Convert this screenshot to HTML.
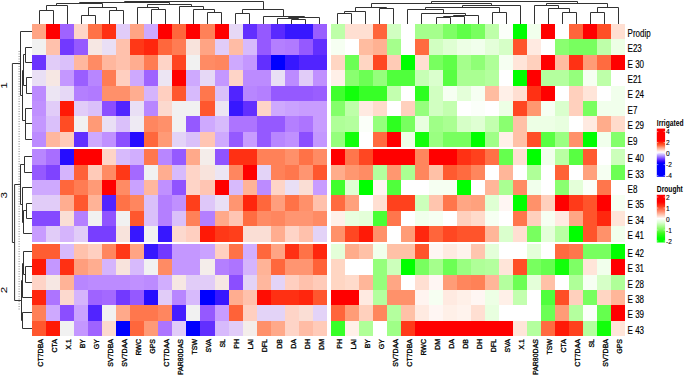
<!DOCTYPE html>
<html><head><meta charset="utf-8"><title>Heatmap</title>
<style>
html,body{margin:0;padding:0;background:#fff;}
body{width:685px;height:377px;position:relative;overflow:hidden;font-family:"Liberation Sans", sans-serif;}
</style></head><body>
<svg width="685" height="377" viewBox="0 0 685 377" shape-rendering="crispEdges" style="position:absolute;left:0;top:0">
<rect x="32.00" y="24.00" width="14.09" height="15.43" fill="#ffa484"/>
<rect x="46.04" y="24.00" width="14.09" height="15.43" fill="#ff0000"/>
<rect x="60.08" y="24.00" width="14.09" height="15.43" fill="#9f63ff"/>
<rect x="74.12" y="24.00" width="14.09" height="15.43" fill="#fed4c7"/>
<rect x="88.16" y="24.00" width="14.09" height="15.43" fill="#ff7247"/>
<rect x="102.20" y="24.00" width="14.09" height="15.43" fill="#ff3013"/>
<rect x="116.24" y="24.00" width="14.09" height="15.43" fill="#e1ccf8"/>
<rect x="130.28" y="24.00" width="14.09" height="15.43" fill="#ffa484"/>
<rect x="144.32" y="24.00" width="14.09" height="15.43" fill="#cea9fe"/>
<rect x="158.36" y="24.00" width="14.09" height="15.43" fill="#ff0000"/>
<rect x="172.40" y="24.00" width="14.09" height="15.43" fill="#ff673c"/>
<rect x="186.44" y="24.00" width="14.09" height="15.43" fill="#ff0000"/>
<rect x="200.48" y="24.00" width="14.09" height="15.43" fill="#ff8158"/>
<rect x="214.52" y="24.00" width="14.09" height="15.43" fill="#ff0000"/>
<rect x="228.56" y="24.00" width="14.09" height="15.43" fill="#e6d8f6"/>
<rect x="242.60" y="24.00" width="14.09" height="15.43" fill="#622fff"/>
<rect x="256.64" y="24.00" width="14.09" height="15.43" fill="#9559ff"/>
<rect x="270.68" y="24.00" width="14.09" height="15.43" fill="#5a29ff"/>
<rect x="284.72" y="24.00" width="14.09" height="15.43" fill="#3717ff"/>
<rect x="298.76" y="24.00" width="14.09" height="15.43" fill="#3717ff"/>
<rect x="312.80" y="24.00" width="14.09" height="15.43" fill="#9a5eff"/>
<rect x="330.80" y="24.00" width="14.08" height="15.43" fill="#beffa9"/>
<rect x="344.83" y="24.00" width="14.08" height="15.43" fill="#ffdfd2"/>
<rect x="358.86" y="24.00" width="14.08" height="15.43" fill="#ffdfd2"/>
<rect x="372.89" y="24.00" width="14.08" height="15.43" fill="#ff653b"/>
<rect x="386.92" y="24.00" width="14.08" height="15.43" fill="#d1ffc1"/>
<rect x="400.95" y="24.00" width="14.08" height="15.43" fill="#ffffff"/>
<rect x="414.98" y="24.00" width="14.08" height="15.43" fill="#a5ff8c"/>
<rect x="429.01" y="24.00" width="14.08" height="15.43" fill="#a5ff8c"/>
<rect x="443.04" y="24.00" width="14.08" height="15.43" fill="#7eff65"/>
<rect x="457.07" y="24.00" width="14.08" height="15.43" fill="#5fff48"/>
<rect x="471.10" y="24.00" width="14.08" height="15.43" fill="#78ff5f"/>
<rect x="485.13" y="24.00" width="14.08" height="15.43" fill="#beffa9"/>
<rect x="499.16" y="24.00" width="14.08" height="15.43" fill="#fbfff9"/>
<rect x="513.19" y="24.00" width="14.08" height="15.43" fill="#00ff00"/>
<rect x="527.22" y="24.00" width="14.08" height="15.43" fill="#f1ffec"/>
<rect x="541.25" y="24.00" width="14.08" height="15.43" fill="#ff0000"/>
<rect x="555.28" y="24.00" width="14.08" height="15.43" fill="#ffffff"/>
<rect x="569.31" y="24.00" width="14.08" height="15.43" fill="#ff653b"/>
<rect x="583.34" y="24.00" width="14.08" height="15.43" fill="#ff0000"/>
<rect x="597.37" y="24.00" width="14.08" height="15.43" fill="#ff4e26"/>
<rect x="611.40" y="24.00" width="14.08" height="15.43" fill="#ffdfd2"/>
<rect x="32.00" y="39.38" width="14.09" height="15.43" fill="#f1f1f1"/>
<rect x="46.04" y="39.38" width="14.09" height="15.43" fill="#ffc1ac"/>
<rect x="60.08" y="39.38" width="14.09" height="15.43" fill="#7239ff"/>
<rect x="74.12" y="39.38" width="14.09" height="15.43" fill="#9559ff"/>
<rect x="88.16" y="39.38" width="14.09" height="15.43" fill="#f6e7e3"/>
<rect x="102.20" y="39.38" width="14.09" height="15.43" fill="#e9dff5"/>
<rect x="116.24" y="39.38" width="14.09" height="15.43" fill="#ffc1ac"/>
<rect x="130.28" y="39.38" width="14.09" height="15.43" fill="#ff3817"/>
<rect x="144.32" y="39.38" width="14.09" height="15.43" fill="#ff260d"/>
<rect x="158.36" y="39.38" width="14.09" height="15.43" fill="#ff673c"/>
<rect x="172.40" y="39.38" width="14.09" height="15.43" fill="#ff7c53"/>
<rect x="186.44" y="39.38" width="14.09" height="15.43" fill="#f8e3dc"/>
<rect x="200.48" y="39.38" width="14.09" height="15.43" fill="#ffa484"/>
<rect x="214.52" y="39.38" width="14.09" height="15.43" fill="#e1ccf8"/>
<rect x="228.56" y="39.38" width="14.09" height="15.43" fill="#ffbca5"/>
<rect x="242.60" y="39.38" width="14.09" height="15.43" fill="#d7bafc"/>
<rect x="256.64" y="39.38" width="14.09" height="15.43" fill="#9559ff"/>
<rect x="270.68" y="39.38" width="14.09" height="15.43" fill="#b47fff"/>
<rect x="284.72" y="39.38" width="14.09" height="15.43" fill="#b17aff"/>
<rect x="298.76" y="39.38" width="14.09" height="15.43" fill="#9559ff"/>
<rect x="312.80" y="39.38" width="14.09" height="15.43" fill="#622fff"/>
<rect x="330.80" y="39.38" width="14.08" height="15.43" fill="#f6fff2"/>
<rect x="344.83" y="39.38" width="14.08" height="15.43" fill="#ffffff"/>
<rect x="358.86" y="39.38" width="14.08" height="15.43" fill="#ffbca0"/>
<rect x="372.89" y="39.38" width="14.08" height="15.43" fill="#ffb192"/>
<rect x="386.92" y="39.38" width="14.08" height="15.43" fill="#a5ff8c"/>
<rect x="400.95" y="39.38" width="14.08" height="15.43" fill="#ffffff"/>
<rect x="414.98" y="39.38" width="14.08" height="15.43" fill="#ff6b40"/>
<rect x="429.01" y="39.38" width="14.08" height="15.43" fill="#d1ffc1"/>
<rect x="443.04" y="39.38" width="14.08" height="15.43" fill="#dfffd3"/>
<rect x="457.07" y="39.38" width="14.08" height="15.43" fill="#edffe5"/>
<rect x="471.10" y="39.38" width="14.08" height="15.43" fill="#f1ffec"/>
<rect x="485.13" y="39.38" width="14.08" height="15.43" fill="#e4ffd9"/>
<rect x="499.16" y="39.38" width="14.08" height="15.43" fill="#d6ffc7"/>
<rect x="513.19" y="39.38" width="14.08" height="15.43" fill="#ff542b"/>
<rect x="527.22" y="39.38" width="14.08" height="15.43" fill="#ffeae1"/>
<rect x="541.25" y="39.38" width="14.08" height="15.43" fill="#ffffff"/>
<rect x="555.28" y="39.38" width="14.08" height="15.43" fill="#8aff70"/>
<rect x="569.31" y="39.38" width="14.08" height="15.43" fill="#78ff5f"/>
<rect x="583.34" y="39.38" width="14.08" height="15.43" fill="#78ff5f"/>
<rect x="597.37" y="39.38" width="14.08" height="15.43" fill="#beffa9"/>
<rect x="611.40" y="39.38" width="14.08" height="15.43" fill="#edffe5"/>
<rect x="32.00" y="54.75" width="14.09" height="15.43" fill="#6b34ff"/>
<rect x="46.04" y="54.75" width="14.09" height="15.43" fill="#e1ccf8"/>
<rect x="60.08" y="54.75" width="14.09" height="15.43" fill="#dac0fa"/>
<rect x="74.12" y="54.75" width="14.09" height="15.43" fill="#ffb79e"/>
<rect x="88.16" y="54.75" width="14.09" height="15.43" fill="#ff8b64"/>
<rect x="102.20" y="54.75" width="14.09" height="15.43" fill="#ffb79e"/>
<rect x="116.24" y="54.75" width="14.09" height="15.43" fill="#ffc1ac"/>
<rect x="130.28" y="54.75" width="14.09" height="15.43" fill="#ffad90"/>
<rect x="144.32" y="54.75" width="14.09" height="15.43" fill="#ff7c53"/>
<rect x="158.36" y="54.75" width="14.09" height="15.43" fill="#fed4c7"/>
<rect x="172.40" y="54.75" width="14.09" height="15.43" fill="#ff4520"/>
<rect x="186.44" y="54.75" width="14.09" height="15.43" fill="#f1f1f1"/>
<rect x="200.48" y="54.75" width="14.09" height="15.43" fill="#ff8b64"/>
<rect x="214.52" y="54.75" width="14.09" height="15.43" fill="#ff865f"/>
<rect x="228.56" y="54.75" width="14.09" height="15.43" fill="#cea9fe"/>
<rect x="242.60" y="54.75" width="14.09" height="15.43" fill="#c497ff"/>
<rect x="256.64" y="54.75" width="14.09" height="15.43" fill="#622fff"/>
<rect x="270.68" y="54.75" width="14.09" height="15.43" fill="#0000ff"/>
<rect x="284.72" y="54.75" width="14.09" height="15.43" fill="#3717ff"/>
<rect x="298.76" y="54.75" width="14.09" height="15.43" fill="#5124ff"/>
<rect x="312.80" y="54.75" width="14.09" height="15.43" fill="#5124ff"/>
<rect x="330.80" y="54.75" width="14.08" height="15.43" fill="#ffd6c3"/>
<rect x="344.83" y="54.75" width="14.08" height="15.43" fill="#6cff54"/>
<rect x="358.86" y="54.75" width="14.08" height="15.43" fill="#ffd6c3"/>
<rect x="372.89" y="54.75" width="14.08" height="15.43" fill="#ff4722"/>
<rect x="386.92" y="54.75" width="14.08" height="15.43" fill="#ffcbb6"/>
<rect x="400.95" y="54.75" width="14.08" height="15.43" fill="#00ff00"/>
<rect x="414.98" y="54.75" width="14.08" height="15.43" fill="#ffdfd2"/>
<rect x="429.01" y="54.75" width="14.08" height="15.43" fill="#78ff5f"/>
<rect x="443.04" y="54.75" width="14.08" height="15.43" fill="#5fff48"/>
<rect x="457.07" y="54.75" width="14.08" height="15.43" fill="#a5ff8c"/>
<rect x="471.10" y="54.75" width="14.08" height="15.43" fill="#8fff76"/>
<rect x="485.13" y="54.75" width="14.08" height="15.43" fill="#afff98"/>
<rect x="499.16" y="54.75" width="14.08" height="15.43" fill="#f6fff2"/>
<rect x="513.19" y="54.75" width="14.08" height="15.43" fill="#ffe5d9"/>
<rect x="527.22" y="54.75" width="14.08" height="15.43" fill="#ffd0bd"/>
<rect x="541.25" y="54.75" width="14.08" height="15.43" fill="#ff0000"/>
<rect x="555.28" y="54.75" width="14.08" height="15.43" fill="#ffbca0"/>
<rect x="569.31" y="54.75" width="14.08" height="15.43" fill="#ff3114"/>
<rect x="583.34" y="54.75" width="14.08" height="15.43" fill="#ff9c77"/>
<rect x="597.37" y="54.75" width="14.08" height="15.43" fill="#ff6b40"/>
<rect x="611.40" y="54.75" width="14.08" height="15.43" fill="#ff0000"/>
<rect x="32.00" y="70.12" width="14.09" height="15.43" fill="#e9dff5"/>
<rect x="46.04" y="70.12" width="14.09" height="15.43" fill="#f6e7e3"/>
<rect x="60.08" y="70.12" width="14.09" height="15.43" fill="#c497ff"/>
<rect x="74.12" y="70.12" width="14.09" height="15.43" fill="#9a5eff"/>
<rect x="88.16" y="70.12" width="14.09" height="15.43" fill="#b886ff"/>
<rect x="102.20" y="70.12" width="14.09" height="15.43" fill="#ff7c53"/>
<rect x="116.24" y="70.12" width="14.09" height="15.43" fill="#ffcfc0"/>
<rect x="130.28" y="70.12" width="14.09" height="15.43" fill="#cea9fe"/>
<rect x="144.32" y="70.12" width="14.09" height="15.43" fill="#9f63ff"/>
<rect x="158.36" y="70.12" width="14.09" height="15.43" fill="#ece5f3"/>
<rect x="172.40" y="70.12" width="14.09" height="15.43" fill="#ff0000"/>
<rect x="186.44" y="70.12" width="14.09" height="15.43" fill="#cea9fe"/>
<rect x="200.48" y="70.12" width="14.09" height="15.43" fill="#e6d8f6"/>
<rect x="214.52" y="70.12" width="14.09" height="15.43" fill="#c497ff"/>
<rect x="228.56" y="70.12" width="14.09" height="15.43" fill="#fed4c7"/>
<rect x="242.60" y="70.12" width="14.09" height="15.43" fill="#bc8bff"/>
<rect x="256.64" y="70.12" width="14.09" height="15.43" fill="#bc8bff"/>
<rect x="270.68" y="70.12" width="14.09" height="15.43" fill="#e9dff5"/>
<rect x="284.72" y="70.12" width="14.09" height="15.43" fill="#bc8bff"/>
<rect x="298.76" y="70.12" width="14.09" height="15.43" fill="#e1ccf8"/>
<rect x="312.80" y="70.12" width="14.09" height="15.43" fill="#c090ff"/>
<rect x="330.80" y="70.12" width="14.08" height="15.43" fill="#fff0e8"/>
<rect x="344.83" y="70.12" width="14.08" height="15.43" fill="#8aff70"/>
<rect x="358.86" y="70.12" width="14.08" height="15.43" fill="#6cff54"/>
<rect x="372.89" y="70.12" width="14.08" height="15.43" fill="#95ff7c"/>
<rect x="386.92" y="70.12" width="14.08" height="15.43" fill="#50ff3c"/>
<rect x="400.95" y="70.12" width="14.08" height="15.43" fill="#50ff3c"/>
<rect x="414.98" y="70.12" width="14.08" height="15.43" fill="#c7ffb5"/>
<rect x="429.01" y="70.12" width="14.08" height="15.43" fill="#daffcd"/>
<rect x="443.04" y="70.12" width="14.08" height="15.43" fill="#58ff42"/>
<rect x="457.07" y="70.12" width="14.08" height="15.43" fill="#aaff92"/>
<rect x="471.10" y="70.12" width="14.08" height="15.43" fill="#aaff92"/>
<rect x="485.13" y="70.12" width="14.08" height="15.43" fill="#b4ff9e"/>
<rect x="499.16" y="70.12" width="14.08" height="15.43" fill="#ffffff"/>
<rect x="513.19" y="70.12" width="14.08" height="15.43" fill="#00ff00"/>
<rect x="527.22" y="70.12" width="14.08" height="15.43" fill="#ff0000"/>
<rect x="541.25" y="70.12" width="14.08" height="15.43" fill="#b4ff9e"/>
<rect x="555.28" y="70.12" width="14.08" height="15.43" fill="#b4ff9e"/>
<rect x="569.31" y="70.12" width="14.08" height="15.43" fill="#95ff7c"/>
<rect x="583.34" y="70.12" width="14.08" height="15.43" fill="#f6fff2"/>
<rect x="597.37" y="70.12" width="14.08" height="15.43" fill="#beffa9"/>
<rect x="611.40" y="70.12" width="14.08" height="15.43" fill="#ffffff"/>
<rect x="32.00" y="85.50" width="14.09" height="15.43" fill="#bc8bff"/>
<rect x="46.04" y="85.50" width="14.09" height="15.43" fill="#ece5f3"/>
<rect x="60.08" y="85.50" width="14.09" height="15.43" fill="#e6d8f6"/>
<rect x="74.12" y="85.50" width="14.09" height="15.43" fill="#b47fff"/>
<rect x="88.16" y="85.50" width="14.09" height="15.43" fill="#b17aff"/>
<rect x="102.20" y="85.50" width="14.09" height="15.43" fill="#ff906a"/>
<rect x="116.24" y="85.50" width="14.09" height="15.43" fill="#ff906a"/>
<rect x="130.28" y="85.50" width="14.09" height="15.43" fill="#ffad90"/>
<rect x="144.32" y="85.50" width="14.09" height="15.43" fill="#d5b4fc"/>
<rect x="158.36" y="85.50" width="14.09" height="15.43" fill="#ffcfc0"/>
<rect x="172.40" y="85.50" width="14.09" height="15.43" fill="#ff572e"/>
<rect x="186.44" y="85.50" width="14.09" height="15.43" fill="#d7bafc"/>
<rect x="200.48" y="85.50" width="14.09" height="15.43" fill="#ff774d"/>
<rect x="214.52" y="85.50" width="14.09" height="15.43" fill="#dac0fa"/>
<rect x="228.56" y="85.50" width="14.09" height="15.43" fill="#5124ff"/>
<rect x="242.60" y="85.50" width="14.09" height="15.43" fill="#b886ff"/>
<rect x="256.64" y="85.50" width="14.09" height="15.43" fill="#b47fff"/>
<rect x="270.68" y="85.50" width="14.09" height="15.43" fill="#9559ff"/>
<rect x="284.72" y="85.50" width="14.09" height="15.43" fill="#9559ff"/>
<rect x="298.76" y="85.50" width="14.09" height="15.43" fill="#9559ff"/>
<rect x="312.80" y="85.50" width="14.09" height="15.43" fill="#9a5eff"/>
<rect x="330.80" y="85.50" width="14.08" height="15.43" fill="#40ff2e"/>
<rect x="344.83" y="85.50" width="14.08" height="15.43" fill="#12ff0b"/>
<rect x="358.86" y="85.50" width="14.08" height="15.43" fill="#37ff27"/>
<rect x="372.89" y="85.50" width="14.08" height="15.43" fill="#37ff27"/>
<rect x="386.92" y="85.50" width="14.08" height="15.43" fill="#c3ffaf"/>
<rect x="400.95" y="85.50" width="14.08" height="15.43" fill="#ffffff"/>
<rect x="414.98" y="85.50" width="14.08" height="15.43" fill="#2dff1f"/>
<rect x="429.01" y="85.50" width="14.08" height="15.43" fill="#d1ffc1"/>
<rect x="443.04" y="85.50" width="14.08" height="15.43" fill="#f6fff2"/>
<rect x="457.07" y="85.50" width="14.08" height="15.43" fill="#e4ffd9"/>
<rect x="471.10" y="85.50" width="14.08" height="15.43" fill="#f6fff2"/>
<rect x="485.13" y="85.50" width="14.08" height="15.43" fill="#ffbca0"/>
<rect x="499.16" y="85.50" width="14.08" height="15.43" fill="#fff0e8"/>
<rect x="513.19" y="85.50" width="14.08" height="15.43" fill="#ffdfd2"/>
<rect x="527.22" y="85.50" width="14.08" height="15.43" fill="#ff3114"/>
<rect x="541.25" y="85.50" width="14.08" height="15.43" fill="#ff0000"/>
<rect x="555.28" y="85.50" width="14.08" height="15.43" fill="#ffffff"/>
<rect x="569.31" y="85.50" width="14.08" height="15.43" fill="#ffd0bd"/>
<rect x="583.34" y="85.50" width="14.08" height="15.43" fill="#ffe5d9"/>
<rect x="597.37" y="85.50" width="14.08" height="15.43" fill="#ffffff"/>
<rect x="611.40" y="85.50" width="14.08" height="15.43" fill="#f1ffec"/>
<rect x="32.00" y="100.88" width="14.09" height="15.43" fill="#c090ff"/>
<rect x="46.04" y="100.88" width="14.09" height="15.43" fill="#e1ccf8"/>
<rect x="60.08" y="100.88" width="14.09" height="15.43" fill="#ff1906"/>
<rect x="74.12" y="100.88" width="14.09" height="15.43" fill="#e1ccf8"/>
<rect x="88.16" y="100.88" width="14.09" height="15.43" fill="#dac0fa"/>
<rect x="102.20" y="100.88" width="14.09" height="15.43" fill="#8b4eff"/>
<rect x="116.24" y="100.88" width="14.09" height="15.43" fill="#5124ff"/>
<rect x="130.28" y="100.88" width="14.09" height="15.43" fill="#e9dff5"/>
<rect x="144.32" y="100.88" width="14.09" height="15.43" fill="#b886ff"/>
<rect x="158.36" y="100.88" width="14.09" height="15.43" fill="#fcd9ce"/>
<rect x="172.40" y="100.88" width="14.09" height="15.43" fill="#f1f1f1"/>
<rect x="186.44" y="100.88" width="14.09" height="15.43" fill="#f1f1f1"/>
<rect x="200.48" y="100.88" width="14.09" height="15.43" fill="#ff572e"/>
<rect x="214.52" y="100.88" width="14.09" height="15.43" fill="#ece5f3"/>
<rect x="228.56" y="100.88" width="14.09" height="15.43" fill="#3717ff"/>
<rect x="242.60" y="100.88" width="14.09" height="15.43" fill="#622fff"/>
<rect x="256.64" y="100.88" width="14.09" height="15.43" fill="#fed4c7"/>
<rect x="270.68" y="100.88" width="14.09" height="15.43" fill="#cea9fe"/>
<rect x="284.72" y="100.88" width="14.09" height="15.43" fill="#caa2ff"/>
<rect x="298.76" y="100.88" width="14.09" height="15.43" fill="#c89cff"/>
<rect x="312.80" y="100.88" width="14.09" height="15.43" fill="#c89cff"/>
<rect x="330.80" y="100.88" width="14.08" height="15.43" fill="#84ff6b"/>
<rect x="344.83" y="100.88" width="14.08" height="15.43" fill="#beffa9"/>
<rect x="358.86" y="100.88" width="14.08" height="15.43" fill="#ffeae1"/>
<rect x="372.89" y="100.88" width="14.08" height="15.43" fill="#ffdbcb"/>
<rect x="386.92" y="100.88" width="14.08" height="15.43" fill="#ffffff"/>
<rect x="400.95" y="100.88" width="14.08" height="15.43" fill="#ffd0bd"/>
<rect x="414.98" y="100.88" width="14.08" height="15.43" fill="#95ff7c"/>
<rect x="429.01" y="100.88" width="14.08" height="15.43" fill="#d1ffc1"/>
<rect x="443.04" y="100.88" width="14.08" height="15.43" fill="#c3ffaf"/>
<rect x="457.07" y="100.88" width="14.08" height="15.43" fill="#ffffff"/>
<rect x="471.10" y="100.88" width="14.08" height="15.43" fill="#fbfff9"/>
<rect x="485.13" y="100.88" width="14.08" height="15.43" fill="#ffffff"/>
<rect x="499.16" y="100.88" width="14.08" height="15.43" fill="#edffe5"/>
<rect x="513.19" y="100.88" width="14.08" height="15.43" fill="#ff4722"/>
<rect x="527.22" y="100.88" width="14.08" height="15.43" fill="#ff9770"/>
<rect x="541.25" y="100.88" width="14.08" height="15.43" fill="#f6fff2"/>
<rect x="555.28" y="100.88" width="14.08" height="15.43" fill="#daffcd"/>
<rect x="569.31" y="100.88" width="14.08" height="15.43" fill="#ffd0bd"/>
<rect x="583.34" y="100.88" width="14.08" height="15.43" fill="#78ff5f"/>
<rect x="597.37" y="100.88" width="14.08" height="15.43" fill="#f1ffec"/>
<rect x="611.40" y="100.88" width="14.08" height="15.43" fill="#f1ffec"/>
<rect x="32.00" y="116.25" width="14.09" height="15.43" fill="#c497ff"/>
<rect x="46.04" y="116.25" width="14.09" height="15.43" fill="#dac0fa"/>
<rect x="60.08" y="116.25" width="14.09" height="15.43" fill="#ff4c24"/>
<rect x="74.12" y="116.25" width="14.09" height="15.43" fill="#f1f1f1"/>
<rect x="88.16" y="116.25" width="14.09" height="15.43" fill="#ff9a76"/>
<rect x="102.20" y="116.25" width="14.09" height="15.43" fill="#e9dff5"/>
<rect x="116.24" y="116.25" width="14.09" height="15.43" fill="#dac0fa"/>
<rect x="130.28" y="116.25" width="14.09" height="15.43" fill="#eeeaf3"/>
<rect x="144.32" y="116.25" width="14.09" height="15.43" fill="#ff865f"/>
<rect x="158.36" y="116.25" width="14.09" height="15.43" fill="#ff906a"/>
<rect x="172.40" y="116.25" width="14.09" height="15.43" fill="#f1f1f1"/>
<rect x="186.44" y="116.25" width="14.09" height="15.43" fill="#9559ff"/>
<rect x="200.48" y="116.25" width="14.09" height="15.43" fill="#cea9fe"/>
<rect x="214.52" y="116.25" width="14.09" height="15.43" fill="#d7bafc"/>
<rect x="228.56" y="116.25" width="14.09" height="15.43" fill="#ad74ff"/>
<rect x="242.60" y="116.25" width="14.09" height="15.43" fill="#ad74ff"/>
<rect x="256.64" y="116.25" width="14.09" height="15.43" fill="#9559ff"/>
<rect x="270.68" y="116.25" width="14.09" height="15.43" fill="#9559ff"/>
<rect x="284.72" y="116.25" width="14.09" height="15.43" fill="#b47fff"/>
<rect x="298.76" y="116.25" width="14.09" height="15.43" fill="#ad74ff"/>
<rect x="312.80" y="116.25" width="14.09" height="15.43" fill="#c89cff"/>
<rect x="330.80" y="116.25" width="14.08" height="15.43" fill="#afff98"/>
<rect x="344.83" y="116.25" width="14.08" height="15.43" fill="#b4ff9e"/>
<rect x="358.86" y="116.25" width="14.08" height="15.43" fill="#fbfff9"/>
<rect x="372.89" y="116.25" width="14.08" height="15.43" fill="#95ff7c"/>
<rect x="386.92" y="116.25" width="14.08" height="15.43" fill="#2dff1f"/>
<rect x="400.95" y="116.25" width="14.08" height="15.43" fill="#78ff5f"/>
<rect x="414.98" y="116.25" width="14.08" height="15.43" fill="#e8ffdf"/>
<rect x="429.01" y="116.25" width="14.08" height="15.43" fill="#9fff87"/>
<rect x="443.04" y="116.25" width="14.08" height="15.43" fill="#aaff92"/>
<rect x="457.07" y="116.25" width="14.08" height="15.43" fill="#d6ffc7"/>
<rect x="471.10" y="116.25" width="14.08" height="15.43" fill="#dfffd3"/>
<rect x="485.13" y="116.25" width="14.08" height="15.43" fill="#c3ffaf"/>
<rect x="499.16" y="116.25" width="14.08" height="15.43" fill="#8aff70"/>
<rect x="513.19" y="116.25" width="14.08" height="15.43" fill="#ffc1a7"/>
<rect x="527.22" y="116.25" width="14.08" height="15.43" fill="#edffe5"/>
<rect x="541.25" y="116.25" width="14.08" height="15.43" fill="#edffe5"/>
<rect x="555.28" y="116.25" width="14.08" height="15.43" fill="#e8ffdf"/>
<rect x="569.31" y="116.25" width="14.08" height="15.43" fill="#ffffff"/>
<rect x="583.34" y="116.25" width="14.08" height="15.43" fill="#ffeae1"/>
<rect x="597.37" y="116.25" width="14.08" height="15.43" fill="#ffac8b"/>
<rect x="611.40" y="116.25" width="14.08" height="15.43" fill="#ffdbcb"/>
<rect x="32.00" y="131.62" width="14.09" height="15.43" fill="#bc8bff"/>
<rect x="46.04" y="131.62" width="14.09" height="15.43" fill="#ffb79e"/>
<rect x="60.08" y="131.62" width="14.09" height="15.43" fill="#ffcbb9"/>
<rect x="74.12" y="131.62" width="14.09" height="15.43" fill="#622fff"/>
<rect x="88.16" y="131.62" width="14.09" height="15.43" fill="#cea9fe"/>
<rect x="102.20" y="131.62" width="14.09" height="15.43" fill="#c090ff"/>
<rect x="116.24" y="131.62" width="14.09" height="15.43" fill="#8b4eff"/>
<rect x="130.28" y="131.62" width="14.09" height="15.43" fill="#260dff"/>
<rect x="144.32" y="131.62" width="14.09" height="15.43" fill="#ff673c"/>
<rect x="158.36" y="131.62" width="14.09" height="15.43" fill="#ff9a76"/>
<rect x="172.40" y="131.62" width="14.09" height="15.43" fill="#e3d3f7"/>
<rect x="186.44" y="131.62" width="14.09" height="15.43" fill="#dac0fa"/>
<rect x="200.48" y="131.62" width="14.09" height="15.43" fill="#ffc5b3"/>
<rect x="214.52" y="131.62" width="14.09" height="15.43" fill="#cea9fe"/>
<rect x="228.56" y="131.62" width="14.09" height="15.43" fill="#9559ff"/>
<rect x="242.60" y="131.62" width="14.09" height="15.43" fill="#c89cff"/>
<rect x="256.64" y="131.62" width="14.09" height="15.43" fill="#9559ff"/>
<rect x="270.68" y="131.62" width="14.09" height="15.43" fill="#b886ff"/>
<rect x="284.72" y="131.62" width="14.09" height="15.43" fill="#c090ff"/>
<rect x="298.76" y="131.62" width="14.09" height="15.43" fill="#8b4eff"/>
<rect x="312.80" y="131.62" width="14.09" height="15.43" fill="#c497ff"/>
<rect x="330.80" y="131.62" width="14.08" height="15.43" fill="#95ff7c"/>
<rect x="344.83" y="131.62" width="14.08" height="15.43" fill="#12ff0b"/>
<rect x="358.86" y="131.62" width="14.08" height="15.43" fill="#ffffff"/>
<rect x="372.89" y="131.62" width="14.08" height="15.43" fill="#ff6b40"/>
<rect x="386.92" y="131.62" width="14.08" height="15.43" fill="#ff0000"/>
<rect x="400.95" y="131.62" width="14.08" height="15.43" fill="#edffe5"/>
<rect x="414.98" y="131.62" width="14.08" height="15.43" fill="#12ff0b"/>
<rect x="429.01" y="131.62" width="14.08" height="15.43" fill="#9aff81"/>
<rect x="443.04" y="131.62" width="14.08" height="15.43" fill="#78ff5f"/>
<rect x="457.07" y="131.62" width="14.08" height="15.43" fill="#78ff5f"/>
<rect x="471.10" y="131.62" width="14.08" height="15.43" fill="#00ff00"/>
<rect x="485.13" y="131.62" width="14.08" height="15.43" fill="#9fff87"/>
<rect x="499.16" y="131.62" width="14.08" height="15.43" fill="#fff0e8"/>
<rect x="513.19" y="131.62" width="14.08" height="15.43" fill="#ffc1a7"/>
<rect x="527.22" y="131.62" width="14.08" height="15.43" fill="#ff4e26"/>
<rect x="541.25" y="131.62" width="14.08" height="15.43" fill="#58ff42"/>
<rect x="555.28" y="131.62" width="14.08" height="15.43" fill="#9aff81"/>
<rect x="569.31" y="131.62" width="14.08" height="15.43" fill="#ff916a"/>
<rect x="583.34" y="131.62" width="14.08" height="15.43" fill="#00ff00"/>
<rect x="597.37" y="131.62" width="14.08" height="15.43" fill="#f1ffec"/>
<rect x="611.40" y="131.62" width="14.08" height="15.43" fill="#84ff6b"/>
<rect x="32.00" y="149.20" width="14.09" height="15.43" fill="#b886ff"/>
<rect x="46.04" y="149.20" width="14.09" height="15.43" fill="#a86eff"/>
<rect x="60.08" y="149.20" width="14.09" height="15.43" fill="#260dff"/>
<rect x="74.12" y="149.20" width="14.09" height="15.43" fill="#ff0000"/>
<rect x="88.16" y="149.20" width="14.09" height="15.43" fill="#ff0000"/>
<rect x="102.20" y="149.20" width="14.09" height="15.43" fill="#fed4c7"/>
<rect x="116.24" y="149.20" width="14.09" height="15.43" fill="#d7bafc"/>
<rect x="130.28" y="149.20" width="14.09" height="15.43" fill="#d1aefe"/>
<rect x="144.32" y="149.20" width="14.09" height="15.43" fill="#ff774d"/>
<rect x="158.36" y="149.20" width="14.09" height="15.43" fill="#b886ff"/>
<rect x="172.40" y="149.20" width="14.09" height="15.43" fill="#9559ff"/>
<rect x="186.44" y="149.20" width="14.09" height="15.43" fill="#ffa98a"/>
<rect x="200.48" y="149.20" width="14.09" height="15.43" fill="#f4edea"/>
<rect x="214.52" y="149.20" width="14.09" height="15.43" fill="#9053ff"/>
<rect x="228.56" y="149.20" width="14.09" height="15.43" fill="#ff3013"/>
<rect x="242.60" y="149.20" width="14.09" height="15.43" fill="#ff3013"/>
<rect x="256.64" y="149.20" width="14.09" height="15.43" fill="#ff8158"/>
<rect x="270.68" y="149.20" width="14.09" height="15.43" fill="#ff8158"/>
<rect x="284.72" y="149.20" width="14.09" height="15.43" fill="#ff906a"/>
<rect x="298.76" y="149.20" width="14.09" height="15.43" fill="#ff7247"/>
<rect x="312.80" y="149.20" width="14.09" height="15.43" fill="#ff8b64"/>
<rect x="330.80" y="149.20" width="14.08" height="15.43" fill="#ff0000"/>
<rect x="344.83" y="149.20" width="14.08" height="15.43" fill="#ff764c"/>
<rect x="358.86" y="149.20" width="14.08" height="15.43" fill="#ff4722"/>
<rect x="372.89" y="149.20" width="14.08" height="15.43" fill="#ff0000"/>
<rect x="386.92" y="149.20" width="14.08" height="15.43" fill="#ff0000"/>
<rect x="400.95" y="149.20" width="14.08" height="15.43" fill="#ff0000"/>
<rect x="414.98" y="149.20" width="14.08" height="15.43" fill="#ff865d"/>
<rect x="429.01" y="149.20" width="14.08" height="15.43" fill="#ff0000"/>
<rect x="443.04" y="149.20" width="14.08" height="15.43" fill="#ff0000"/>
<rect x="457.07" y="149.20" width="14.08" height="15.43" fill="#ff3114"/>
<rect x="471.10" y="149.20" width="14.08" height="15.43" fill="#ff411d"/>
<rect x="485.13" y="149.20" width="14.08" height="15.43" fill="#ff7146"/>
<rect x="499.16" y="149.20" width="14.08" height="15.43" fill="#65ff4e"/>
<rect x="513.19" y="149.20" width="14.08" height="15.43" fill="#ffdfd2"/>
<rect x="527.22" y="149.20" width="14.08" height="15.43" fill="#00ff00"/>
<rect x="541.25" y="149.20" width="14.08" height="15.43" fill="#f1ffec"/>
<rect x="555.28" y="149.20" width="14.08" height="15.43" fill="#b9ffa3"/>
<rect x="569.31" y="149.20" width="14.08" height="15.43" fill="#58ff42"/>
<rect x="583.34" y="149.20" width="14.08" height="15.43" fill="#ff5a30"/>
<rect x="597.37" y="149.20" width="14.08" height="15.43" fill="#ffffff"/>
<rect x="611.40" y="149.20" width="14.08" height="15.43" fill="#ccffbb"/>
<rect x="32.00" y="164.57" width="14.09" height="15.43" fill="#9559ff"/>
<rect x="46.04" y="164.57" width="14.09" height="15.43" fill="#7f43ff"/>
<rect x="60.08" y="164.57" width="14.09" height="15.43" fill="#d5b4fc"/>
<rect x="74.12" y="164.57" width="14.09" height="15.43" fill="#ff6238"/>
<rect x="88.16" y="164.57" width="14.09" height="15.43" fill="#ffcbb9"/>
<rect x="102.20" y="164.57" width="14.09" height="15.43" fill="#ff8b64"/>
<rect x="116.24" y="164.57" width="14.09" height="15.43" fill="#ff3817"/>
<rect x="130.28" y="164.57" width="14.09" height="15.43" fill="#a469ff"/>
<rect x="144.32" y="164.57" width="14.09" height="15.43" fill="#f1f1f1"/>
<rect x="158.36" y="164.57" width="14.09" height="15.43" fill="#ffad90"/>
<rect x="172.40" y="164.57" width="14.09" height="15.43" fill="#d7bafc"/>
<rect x="186.44" y="164.57" width="14.09" height="15.43" fill="#fed4c7"/>
<rect x="200.48" y="164.57" width="14.09" height="15.43" fill="#f8e3dc"/>
<rect x="214.52" y="164.57" width="14.09" height="15.43" fill="#ece5f3"/>
<rect x="228.56" y="164.57" width="14.09" height="15.43" fill="#ff865f"/>
<rect x="242.60" y="164.57" width="14.09" height="15.43" fill="#ff0000"/>
<rect x="256.64" y="164.57" width="14.09" height="15.43" fill="#e3d3f7"/>
<rect x="270.68" y="164.57" width="14.09" height="15.43" fill="#ff8158"/>
<rect x="284.72" y="164.57" width="14.09" height="15.43" fill="#ff774d"/>
<rect x="298.76" y="164.57" width="14.09" height="15.43" fill="#ff9571"/>
<rect x="312.80" y="164.57" width="14.09" height="15.43" fill="#ff572e"/>
<rect x="330.80" y="164.57" width="14.08" height="15.43" fill="#ffac8b"/>
<rect x="344.83" y="164.57" width="14.08" height="15.43" fill="#ff9770"/>
<rect x="358.86" y="164.57" width="14.08" height="15.43" fill="#ff8c64"/>
<rect x="372.89" y="164.57" width="14.08" height="15.43" fill="#b4ff9e"/>
<rect x="386.92" y="164.57" width="14.08" height="15.43" fill="#ff9770"/>
<rect x="400.95" y="164.57" width="14.08" height="15.43" fill="#aaff92"/>
<rect x="414.98" y="164.57" width="14.08" height="15.43" fill="#ff865d"/>
<rect x="429.01" y="164.57" width="14.08" height="15.43" fill="#ffc1a7"/>
<rect x="443.04" y="164.57" width="14.08" height="15.43" fill="#ff5a30"/>
<rect x="457.07" y="164.57" width="14.08" height="15.43" fill="#ff6b40"/>
<rect x="471.10" y="164.57" width="14.08" height="15.43" fill="#ff865d"/>
<rect x="485.13" y="164.57" width="14.08" height="15.43" fill="#ffffff"/>
<rect x="499.16" y="164.57" width="14.08" height="15.43" fill="#ffb699"/>
<rect x="513.19" y="164.57" width="14.08" height="15.43" fill="#ffffff"/>
<rect x="527.22" y="164.57" width="14.08" height="15.43" fill="#afff98"/>
<rect x="541.25" y="164.57" width="14.08" height="15.43" fill="#ffffff"/>
<rect x="555.28" y="164.57" width="14.08" height="15.43" fill="#ff6135"/>
<rect x="569.31" y="164.57" width="14.08" height="15.43" fill="#ffffff"/>
<rect x="583.34" y="164.57" width="14.08" height="15.43" fill="#ffa17d"/>
<rect x="597.37" y="164.57" width="14.08" height="15.43" fill="#f6fff2"/>
<rect x="611.40" y="164.57" width="14.08" height="15.43" fill="#6cff54"/>
<rect x="32.00" y="179.95" width="14.09" height="15.43" fill="#cea9fe"/>
<rect x="46.04" y="179.95" width="14.09" height="15.43" fill="#cea9fe"/>
<rect x="60.08" y="179.95" width="14.09" height="15.43" fill="#ff673c"/>
<rect x="74.12" y="179.95" width="14.09" height="15.43" fill="#ff7c53"/>
<rect x="88.16" y="179.95" width="14.09" height="15.43" fill="#ff9a76"/>
<rect x="102.20" y="179.95" width="14.09" height="15.43" fill="#ff0000"/>
<rect x="116.24" y="179.95" width="14.09" height="15.43" fill="#ff8b64"/>
<rect x="130.28" y="179.95" width="14.09" height="15.43" fill="#caa2ff"/>
<rect x="144.32" y="179.95" width="14.09" height="15.43" fill="#ffb79e"/>
<rect x="158.36" y="179.95" width="14.09" height="15.43" fill="#c090ff"/>
<rect x="172.40" y="179.95" width="14.09" height="15.43" fill="#9053ff"/>
<rect x="186.44" y="179.95" width="14.09" height="15.43" fill="#fed4c7"/>
<rect x="200.48" y="179.95" width="14.09" height="15.43" fill="#ffc5b3"/>
<rect x="214.52" y="179.95" width="14.09" height="15.43" fill="#ff0000"/>
<rect x="228.56" y="179.95" width="14.09" height="15.43" fill="#d7bafc"/>
<rect x="242.60" y="179.95" width="14.09" height="15.43" fill="#ffb397"/>
<rect x="256.64" y="179.95" width="14.09" height="15.43" fill="#bc8bff"/>
<rect x="270.68" y="179.95" width="14.09" height="15.43" fill="#fed4c7"/>
<rect x="284.72" y="179.95" width="14.09" height="15.43" fill="#e9dff5"/>
<rect x="298.76" y="179.95" width="14.09" height="15.43" fill="#faded5"/>
<rect x="312.80" y="179.95" width="14.09" height="15.43" fill="#c89cff"/>
<rect x="330.80" y="179.95" width="14.08" height="15.43" fill="#40ff2e"/>
<rect x="344.83" y="179.95" width="14.08" height="15.43" fill="#dfffd3"/>
<rect x="358.86" y="179.95" width="14.08" height="15.43" fill="#00ff00"/>
<rect x="372.89" y="179.95" width="14.08" height="15.43" fill="#fff6f3"/>
<rect x="386.92" y="179.95" width="14.08" height="15.43" fill="#50ff3c"/>
<rect x="400.95" y="179.95" width="14.08" height="15.43" fill="#ffffff"/>
<rect x="414.98" y="179.95" width="14.08" height="15.43" fill="#ffffff"/>
<rect x="429.01" y="179.95" width="14.08" height="15.43" fill="#f6fff2"/>
<rect x="443.04" y="179.95" width="14.08" height="15.43" fill="#f6fff2"/>
<rect x="457.07" y="179.95" width="14.08" height="15.43" fill="#00ff00"/>
<rect x="471.10" y="179.95" width="14.08" height="15.43" fill="#ffffff"/>
<rect x="485.13" y="179.95" width="14.08" height="15.43" fill="#ffb699"/>
<rect x="499.16" y="179.95" width="14.08" height="15.43" fill="#aaff92"/>
<rect x="513.19" y="179.95" width="14.08" height="15.43" fill="#ff8c64"/>
<rect x="527.22" y="179.95" width="14.08" height="15.43" fill="#f1ffec"/>
<rect x="541.25" y="179.95" width="14.08" height="15.43" fill="#ffffff"/>
<rect x="555.28" y="179.95" width="14.08" height="15.43" fill="#8aff70"/>
<rect x="569.31" y="179.95" width="14.08" height="15.43" fill="#e4ffd9"/>
<rect x="583.34" y="179.95" width="14.08" height="15.43" fill="#fbfff9"/>
<rect x="597.37" y="179.95" width="14.08" height="15.43" fill="#ff764c"/>
<rect x="611.40" y="179.95" width="14.08" height="15.43" fill="#ffffff"/>
<rect x="32.00" y="195.32" width="14.09" height="15.43" fill="#e1ccf8"/>
<rect x="46.04" y="195.32" width="14.09" height="15.43" fill="#e1ccf8"/>
<rect x="60.08" y="195.32" width="14.09" height="15.43" fill="#ffad90"/>
<rect x="74.12" y="195.32" width="14.09" height="15.43" fill="#ff572e"/>
<rect x="88.16" y="195.32" width="14.09" height="15.43" fill="#ffb397"/>
<rect x="102.20" y="195.32" width="14.09" height="15.43" fill="#5124ff"/>
<rect x="116.24" y="195.32" width="14.09" height="15.43" fill="#ff7247"/>
<rect x="130.28" y="195.32" width="14.09" height="15.43" fill="#ff865f"/>
<rect x="144.32" y="195.32" width="14.09" height="15.43" fill="#dac0fa"/>
<rect x="158.36" y="195.32" width="14.09" height="15.43" fill="#b47fff"/>
<rect x="172.40" y="195.32" width="14.09" height="15.43" fill="#c090ff"/>
<rect x="186.44" y="195.32" width="14.09" height="15.43" fill="#ff3f1b"/>
<rect x="200.48" y="195.32" width="14.09" height="15.43" fill="#dec7f9"/>
<rect x="214.52" y="195.32" width="14.09" height="15.43" fill="#e9dff5"/>
<rect x="228.56" y="195.32" width="14.09" height="15.43" fill="#ff9571"/>
<rect x="242.60" y="195.32" width="14.09" height="15.43" fill="#ff260d"/>
<rect x="256.64" y="195.32" width="14.09" height="15.43" fill="#ff673c"/>
<rect x="270.68" y="195.32" width="14.09" height="15.43" fill="#ff9e7d"/>
<rect x="284.72" y="195.32" width="14.09" height="15.43" fill="#ff7247"/>
<rect x="298.76" y="195.32" width="14.09" height="15.43" fill="#ff906a"/>
<rect x="312.80" y="195.32" width="14.09" height="15.43" fill="#ffc1ac"/>
<rect x="330.80" y="195.32" width="14.08" height="15.43" fill="#ff6b40"/>
<rect x="344.83" y="195.32" width="14.08" height="15.43" fill="#ffa17d"/>
<rect x="358.86" y="195.32" width="14.08" height="15.43" fill="#ffffff"/>
<rect x="372.89" y="195.32" width="14.08" height="15.43" fill="#ffdfd2"/>
<rect x="386.92" y="195.32" width="14.08" height="15.43" fill="#ff411d"/>
<rect x="400.95" y="195.32" width="14.08" height="15.43" fill="#ff411d"/>
<rect x="414.98" y="195.32" width="14.08" height="15.43" fill="#ccffbb"/>
<rect x="429.01" y="195.32" width="14.08" height="15.43" fill="#ffc5ae"/>
<rect x="443.04" y="195.32" width="14.08" height="15.43" fill="#ff764c"/>
<rect x="457.07" y="195.32" width="14.08" height="15.43" fill="#ffa684"/>
<rect x="471.10" y="195.32" width="14.08" height="15.43" fill="#ffa17d"/>
<rect x="485.13" y="195.32" width="14.08" height="15.43" fill="#dfffd3"/>
<rect x="499.16" y="195.32" width="14.08" height="15.43" fill="#fff6f3"/>
<rect x="513.19" y="195.32" width="14.08" height="15.43" fill="#00ff00"/>
<rect x="527.22" y="195.32" width="14.08" height="15.43" fill="#ff916a"/>
<rect x="541.25" y="195.32" width="14.08" height="15.43" fill="#ffd0bd"/>
<rect x="555.28" y="195.32" width="14.08" height="15.43" fill="#ff0000"/>
<rect x="569.31" y="195.32" width="14.08" height="15.43" fill="#ff3a19"/>
<rect x="583.34" y="195.32" width="14.08" height="15.43" fill="#ff542b"/>
<rect x="597.37" y="195.32" width="14.08" height="15.43" fill="#ff0000"/>
<rect x="611.40" y="195.32" width="14.08" height="15.43" fill="#f6fff2"/>
<rect x="32.00" y="210.70" width="14.09" height="15.43" fill="#8549ff"/>
<rect x="46.04" y="210.70" width="14.09" height="15.43" fill="#8549ff"/>
<rect x="60.08" y="210.70" width="14.09" height="15.43" fill="#faded5"/>
<rect x="74.12" y="210.70" width="14.09" height="15.43" fill="#b47fff"/>
<rect x="88.16" y="210.70" width="14.09" height="15.43" fill="#f1f1f1"/>
<rect x="102.20" y="210.70" width="14.09" height="15.43" fill="#9053ff"/>
<rect x="116.24" y="210.70" width="14.09" height="15.43" fill="#f1f1f1"/>
<rect x="130.28" y="210.70" width="14.09" height="15.43" fill="#ff572e"/>
<rect x="144.32" y="210.70" width="14.09" height="15.43" fill="#dac0fa"/>
<rect x="158.36" y="210.70" width="14.09" height="15.43" fill="#b47fff"/>
<rect x="172.40" y="210.70" width="14.09" height="15.43" fill="#dac0fa"/>
<rect x="186.44" y="210.70" width="14.09" height="15.43" fill="#ff8158"/>
<rect x="200.48" y="210.70" width="14.09" height="15.43" fill="#b47fff"/>
<rect x="214.52" y="210.70" width="14.09" height="15.43" fill="#ffa98a"/>
<rect x="228.56" y="210.70" width="14.09" height="15.43" fill="#ffc5b3"/>
<rect x="242.60" y="210.70" width="14.09" height="15.43" fill="#ff6d42"/>
<rect x="256.64" y="210.70" width="14.09" height="15.43" fill="#ff8b64"/>
<rect x="270.68" y="210.70" width="14.09" height="15.43" fill="#ff865f"/>
<rect x="284.72" y="210.70" width="14.09" height="15.43" fill="#ff9571"/>
<rect x="298.76" y="210.70" width="14.09" height="15.43" fill="#ff9571"/>
<rect x="312.80" y="210.70" width="14.09" height="15.43" fill="#ff8b64"/>
<rect x="330.80" y="210.70" width="14.08" height="15.43" fill="#fff0e8"/>
<rect x="344.83" y="210.70" width="14.08" height="15.43" fill="#e8ffdf"/>
<rect x="358.86" y="210.70" width="14.08" height="15.43" fill="#e4ffd9"/>
<rect x="372.89" y="210.70" width="14.08" height="15.43" fill="#49ff35"/>
<rect x="386.92" y="210.70" width="14.08" height="15.43" fill="#ff764c"/>
<rect x="400.95" y="210.70" width="14.08" height="15.43" fill="#ffffff"/>
<rect x="414.98" y="210.70" width="14.08" height="15.43" fill="#f1ffec"/>
<rect x="429.01" y="210.70" width="14.08" height="15.43" fill="#f6fff2"/>
<rect x="443.04" y="210.70" width="14.08" height="15.43" fill="#ffffff"/>
<rect x="457.07" y="210.70" width="14.08" height="15.43" fill="#ffd0bd"/>
<rect x="471.10" y="210.70" width="14.08" height="15.43" fill="#ffdbcb"/>
<rect x="485.13" y="210.70" width="14.08" height="15.43" fill="#f6fff2"/>
<rect x="499.16" y="210.70" width="14.08" height="15.43" fill="#ffffff"/>
<rect x="513.19" y="210.70" width="14.08" height="15.43" fill="#ff764c"/>
<rect x="527.22" y="210.70" width="14.08" height="15.43" fill="#ffd0bd"/>
<rect x="541.25" y="210.70" width="14.08" height="15.43" fill="#f6fff2"/>
<rect x="555.28" y="210.70" width="14.08" height="15.43" fill="#ffeae1"/>
<rect x="569.31" y="210.70" width="14.08" height="15.43" fill="#ffa684"/>
<rect x="583.34" y="210.70" width="14.08" height="15.43" fill="#ff542b"/>
<rect x="597.37" y="210.70" width="14.08" height="15.43" fill="#ff270e"/>
<rect x="611.40" y="210.70" width="14.08" height="15.43" fill="#ffe5d9"/>
<rect x="32.00" y="226.07" width="14.09" height="15.43" fill="#c89cff"/>
<rect x="46.04" y="226.07" width="14.09" height="15.43" fill="#e1ccf8"/>
<rect x="60.08" y="226.07" width="14.09" height="15.43" fill="#d5b4fc"/>
<rect x="74.12" y="226.07" width="14.09" height="15.43" fill="#e1ccf8"/>
<rect x="88.16" y="226.07" width="14.09" height="15.43" fill="#783eff"/>
<rect x="102.20" y="226.07" width="14.09" height="15.43" fill="#783eff"/>
<rect x="116.24" y="226.07" width="14.09" height="15.43" fill="#f8e3dc"/>
<rect x="130.28" y="226.07" width="14.09" height="15.43" fill="#3717ff"/>
<rect x="144.32" y="226.07" width="14.09" height="15.43" fill="#f1f1f1"/>
<rect x="158.36" y="226.07" width="14.09" height="15.43" fill="#3717ff"/>
<rect x="172.40" y="226.07" width="14.09" height="15.43" fill="#fcd9ce"/>
<rect x="186.44" y="226.07" width="14.09" height="15.43" fill="#ffcfc0"/>
<rect x="200.48" y="226.07" width="14.09" height="15.43" fill="#ff1906"/>
<rect x="214.52" y="226.07" width="14.09" height="15.43" fill="#ff3817"/>
<rect x="228.56" y="226.07" width="14.09" height="15.43" fill="#ff3f1b"/>
<rect x="242.60" y="226.07" width="14.09" height="15.43" fill="#faded5"/>
<rect x="256.64" y="226.07" width="14.09" height="15.43" fill="#faded5"/>
<rect x="270.68" y="226.07" width="14.09" height="15.43" fill="#ffad90"/>
<rect x="284.72" y="226.07" width="14.09" height="15.43" fill="#fed4c7"/>
<rect x="298.76" y="226.07" width="14.09" height="15.43" fill="#ffc1ac"/>
<rect x="312.80" y="226.07" width="14.09" height="15.43" fill="#e3d3f7"/>
<rect x="330.80" y="226.07" width="14.08" height="15.43" fill="#ff916a"/>
<rect x="344.83" y="226.07" width="14.08" height="15.43" fill="#ff4722"/>
<rect x="358.86" y="226.07" width="14.08" height="15.43" fill="#ff1a07"/>
<rect x="372.89" y="226.07" width="14.08" height="15.43" fill="#ff916a"/>
<rect x="386.92" y="226.07" width="14.08" height="15.43" fill="#ffffff"/>
<rect x="400.95" y="226.07" width="14.08" height="15.43" fill="#ff9c77"/>
<rect x="414.98" y="226.07" width="14.08" height="15.43" fill="#ff270e"/>
<rect x="429.01" y="226.07" width="14.08" height="15.43" fill="#ff653b"/>
<rect x="443.04" y="226.07" width="14.08" height="15.43" fill="#ff4722"/>
<rect x="457.07" y="226.07" width="14.08" height="15.43" fill="#ff542b"/>
<rect x="471.10" y="226.07" width="14.08" height="15.43" fill="#ff542b"/>
<rect x="485.13" y="226.07" width="14.08" height="15.43" fill="#ffb699"/>
<rect x="499.16" y="226.07" width="14.08" height="15.43" fill="#daffcd"/>
<rect x="513.19" y="226.07" width="14.08" height="15.43" fill="#ffdfd2"/>
<rect x="527.22" y="226.07" width="14.08" height="15.43" fill="#78ff5f"/>
<rect x="541.25" y="226.07" width="14.08" height="15.43" fill="#e4ffd9"/>
<rect x="555.28" y="226.07" width="14.08" height="15.43" fill="#b9ffa3"/>
<rect x="569.31" y="226.07" width="14.08" height="15.43" fill="#00ff00"/>
<rect x="583.34" y="226.07" width="14.08" height="15.43" fill="#ff542b"/>
<rect x="597.37" y="226.07" width="14.08" height="15.43" fill="#ff916a"/>
<rect x="611.40" y="226.07" width="14.08" height="15.43" fill="#f1ffec"/>
<rect x="32.00" y="243.80" width="14.09" height="15.43" fill="#ff5d32"/>
<rect x="46.04" y="243.80" width="14.09" height="15.43" fill="#ff5d32"/>
<rect x="60.08" y="243.80" width="14.09" height="15.43" fill="#d7bafc"/>
<rect x="74.12" y="243.80" width="14.09" height="15.43" fill="#ffc1ac"/>
<rect x="88.16" y="243.80" width="14.09" height="15.43" fill="#ffcfc0"/>
<rect x="102.20" y="243.80" width="14.09" height="15.43" fill="#ff865f"/>
<rect x="116.24" y="243.80" width="14.09" height="15.43" fill="#ff3817"/>
<rect x="130.28" y="243.80" width="14.09" height="15.43" fill="#ffa484"/>
<rect x="144.32" y="243.80" width="14.09" height="15.43" fill="#3717ff"/>
<rect x="158.36" y="243.80" width="14.09" height="15.43" fill="#7239ff"/>
<rect x="172.40" y="243.80" width="14.09" height="15.43" fill="#c497ff"/>
<rect x="186.44" y="243.80" width="14.09" height="15.43" fill="#c497ff"/>
<rect x="200.48" y="243.80" width="14.09" height="15.43" fill="#caa2ff"/>
<rect x="214.52" y="243.80" width="14.09" height="15.43" fill="#ffcfc0"/>
<rect x="228.56" y="243.80" width="14.09" height="15.43" fill="#ff7247"/>
<rect x="242.60" y="243.80" width="14.09" height="15.43" fill="#d1aefe"/>
<rect x="256.64" y="243.80" width="14.09" height="15.43" fill="#ff673c"/>
<rect x="270.68" y="243.80" width="14.09" height="15.43" fill="#ffa484"/>
<rect x="284.72" y="243.80" width="14.09" height="15.43" fill="#ff3013"/>
<rect x="298.76" y="243.80" width="14.09" height="15.43" fill="#ff7247"/>
<rect x="312.80" y="243.80" width="14.09" height="15.43" fill="#ff260d"/>
<rect x="330.80" y="243.80" width="14.08" height="15.43" fill="#e4ffd9"/>
<rect x="344.83" y="243.80" width="14.08" height="15.43" fill="#ffac8b"/>
<rect x="358.86" y="243.80" width="14.08" height="15.43" fill="#ffc1a7"/>
<rect x="372.89" y="243.80" width="14.08" height="15.43" fill="#f1ffec"/>
<rect x="386.92" y="243.80" width="14.08" height="15.43" fill="#ffc1a7"/>
<rect x="400.95" y="243.80" width="14.08" height="15.43" fill="#ffc1a7"/>
<rect x="414.98" y="243.80" width="14.08" height="15.43" fill="#ff542b"/>
<rect x="429.01" y="243.80" width="14.08" height="15.43" fill="#fff6f3"/>
<rect x="443.04" y="243.80" width="14.08" height="15.43" fill="#ffeae1"/>
<rect x="457.07" y="243.80" width="14.08" height="15.43" fill="#fff3ed"/>
<rect x="471.10" y="243.80" width="14.08" height="15.43" fill="#ffc5ae"/>
<rect x="485.13" y="243.80" width="14.08" height="15.43" fill="#e4ffd9"/>
<rect x="499.16" y="243.80" width="14.08" height="15.43" fill="#ffffff"/>
<rect x="513.19" y="243.80" width="14.08" height="15.43" fill="#ffffff"/>
<rect x="527.22" y="243.80" width="14.08" height="15.43" fill="#e4ffd9"/>
<rect x="541.25" y="243.80" width="14.08" height="15.43" fill="#ffffff"/>
<rect x="555.28" y="243.80" width="14.08" height="15.43" fill="#ff6b40"/>
<rect x="569.31" y="243.80" width="14.08" height="15.43" fill="#ff764c"/>
<rect x="583.34" y="243.80" width="14.08" height="15.43" fill="#78ff5f"/>
<rect x="597.37" y="243.80" width="14.08" height="15.43" fill="#78ff5f"/>
<rect x="611.40" y="243.80" width="14.08" height="15.43" fill="#00ff00"/>
<rect x="32.00" y="259.18" width="14.09" height="15.43" fill="#ff1906"/>
<rect x="46.04" y="259.18" width="14.09" height="15.43" fill="#c497ff"/>
<rect x="60.08" y="259.18" width="14.09" height="15.43" fill="#ff3013"/>
<rect x="74.12" y="259.18" width="14.09" height="15.43" fill="#ff9e7d"/>
<rect x="88.16" y="259.18" width="14.09" height="15.43" fill="#ffad90"/>
<rect x="102.20" y="259.18" width="14.09" height="15.43" fill="#d5b4fc"/>
<rect x="116.24" y="259.18" width="14.09" height="15.43" fill="#f8e3dc"/>
<rect x="130.28" y="259.18" width="14.09" height="15.43" fill="#d7bafc"/>
<rect x="144.32" y="259.18" width="14.09" height="15.43" fill="#f1f1f1"/>
<rect x="158.36" y="259.18" width="14.09" height="15.43" fill="#ff8b64"/>
<rect x="172.40" y="259.18" width="14.09" height="15.43" fill="#c497ff"/>
<rect x="186.44" y="259.18" width="14.09" height="15.43" fill="#c497ff"/>
<rect x="200.48" y="259.18" width="14.09" height="15.43" fill="#f4edea"/>
<rect x="214.52" y="259.18" width="14.09" height="15.43" fill="#b47fff"/>
<rect x="228.56" y="259.18" width="14.09" height="15.43" fill="#ad74ff"/>
<rect x="242.60" y="259.18" width="14.09" height="15.43" fill="#d5b4fc"/>
<rect x="256.64" y="259.18" width="14.09" height="15.43" fill="#ffb397"/>
<rect x="270.68" y="259.18" width="14.09" height="15.43" fill="#ff673c"/>
<rect x="284.72" y="259.18" width="14.09" height="15.43" fill="#ff9571"/>
<rect x="298.76" y="259.18" width="14.09" height="15.43" fill="#ff9571"/>
<rect x="312.80" y="259.18" width="14.09" height="15.43" fill="#ff6238"/>
<rect x="330.80" y="259.18" width="14.08" height="15.43" fill="#ffd6c3"/>
<rect x="344.83" y="259.18" width="14.08" height="15.43" fill="#ffffff"/>
<rect x="358.86" y="259.18" width="14.08" height="15.43" fill="#ffffff"/>
<rect x="372.89" y="259.18" width="14.08" height="15.43" fill="#95ff7c"/>
<rect x="386.92" y="259.18" width="14.08" height="15.43" fill="#ccffbb"/>
<rect x="400.95" y="259.18" width="14.08" height="15.43" fill="#00ff00"/>
<rect x="414.98" y="259.18" width="14.08" height="15.43" fill="#78ff5f"/>
<rect x="429.01" y="259.18" width="14.08" height="15.43" fill="#a5ff8c"/>
<rect x="443.04" y="259.18" width="14.08" height="15.43" fill="#6cff54"/>
<rect x="457.07" y="259.18" width="14.08" height="15.43" fill="#9aff81"/>
<rect x="471.10" y="259.18" width="14.08" height="15.43" fill="#afff98"/>
<rect x="485.13" y="259.18" width="14.08" height="15.43" fill="#b4ff9e"/>
<rect x="499.16" y="259.18" width="14.08" height="15.43" fill="#ffe5d9"/>
<rect x="513.19" y="259.18" width="14.08" height="15.43" fill="#ff4e26"/>
<rect x="527.22" y="259.18" width="14.08" height="15.43" fill="#78ff5f"/>
<rect x="541.25" y="259.18" width="14.08" height="15.43" fill="#65ff4e"/>
<rect x="555.28" y="259.18" width="14.08" height="15.43" fill="#12ff0b"/>
<rect x="569.31" y="259.18" width="14.08" height="15.43" fill="#7eff65"/>
<rect x="583.34" y="259.18" width="14.08" height="15.43" fill="#ffe5d9"/>
<rect x="597.37" y="259.18" width="14.08" height="15.43" fill="#f1ffec"/>
<rect x="611.40" y="259.18" width="14.08" height="15.43" fill="#ff0000"/>
<rect x="32.00" y="274.55" width="14.09" height="15.43" fill="#fed4c7"/>
<rect x="46.04" y="274.55" width="14.09" height="15.43" fill="#f6e7e3"/>
<rect x="60.08" y="274.55" width="14.09" height="15.43" fill="#ffb397"/>
<rect x="74.12" y="274.55" width="14.09" height="15.43" fill="#b886ff"/>
<rect x="88.16" y="274.55" width="14.09" height="15.43" fill="#bc8bff"/>
<rect x="102.20" y="274.55" width="14.09" height="15.43" fill="#bc8bff"/>
<rect x="116.24" y="274.55" width="14.09" height="15.43" fill="#bc8bff"/>
<rect x="130.28" y="274.55" width="14.09" height="15.43" fill="#c090ff"/>
<rect x="144.32" y="274.55" width="14.09" height="15.43" fill="#bc8bff"/>
<rect x="158.36" y="274.55" width="14.09" height="15.43" fill="#d1aefe"/>
<rect x="172.40" y="274.55" width="14.09" height="15.43" fill="#f6e7e3"/>
<rect x="186.44" y="274.55" width="14.09" height="15.43" fill="#e1ccf8"/>
<rect x="200.48" y="274.55" width="14.09" height="15.43" fill="#e1ccf8"/>
<rect x="214.52" y="274.55" width="14.09" height="15.43" fill="#f6e7e3"/>
<rect x="228.56" y="274.55" width="14.09" height="15.43" fill="#8b4eff"/>
<rect x="242.60" y="274.55" width="14.09" height="15.43" fill="#e3d3f7"/>
<rect x="256.64" y="274.55" width="14.09" height="15.43" fill="#ffb79e"/>
<rect x="270.68" y="274.55" width="14.09" height="15.43" fill="#e3d3f7"/>
<rect x="284.72" y="274.55" width="14.09" height="15.43" fill="#ffcfc0"/>
<rect x="298.76" y="274.55" width="14.09" height="15.43" fill="#ffc1ac"/>
<rect x="312.80" y="274.55" width="14.09" height="15.43" fill="#ffcbb9"/>
<rect x="330.80" y="274.55" width="14.08" height="15.43" fill="#ffd6c3"/>
<rect x="344.83" y="274.55" width="14.08" height="15.43" fill="#ffdbcb"/>
<rect x="358.86" y="274.55" width="14.08" height="15.43" fill="#ffb699"/>
<rect x="372.89" y="274.55" width="14.08" height="15.43" fill="#95ff7c"/>
<rect x="386.92" y="274.55" width="14.08" height="15.43" fill="#ffa684"/>
<rect x="400.95" y="274.55" width="14.08" height="15.43" fill="#ffffff"/>
<rect x="414.98" y="274.55" width="14.08" height="15.43" fill="#ffdfd2"/>
<rect x="429.01" y="274.55" width="14.08" height="15.43" fill="#fff6f3"/>
<rect x="443.04" y="274.55" width="14.08" height="15.43" fill="#ff9c77"/>
<rect x="457.07" y="274.55" width="14.08" height="15.43" fill="#ff865d"/>
<rect x="471.10" y="274.55" width="14.08" height="15.43" fill="#ff8157"/>
<rect x="485.13" y="274.55" width="14.08" height="15.43" fill="#ffb699"/>
<rect x="499.16" y="274.55" width="14.08" height="15.43" fill="#b4ff9e"/>
<rect x="513.19" y="274.55" width="14.08" height="15.43" fill="#6cff54"/>
<rect x="527.22" y="274.55" width="14.08" height="15.43" fill="#e4ffd9"/>
<rect x="541.25" y="274.55" width="14.08" height="15.43" fill="#ffc1a7"/>
<rect x="555.28" y="274.55" width="14.08" height="15.43" fill="#ffffff"/>
<rect x="569.31" y="274.55" width="14.08" height="15.43" fill="#afff98"/>
<rect x="583.34" y="274.55" width="14.08" height="15.43" fill="#f6fff2"/>
<rect x="597.37" y="274.55" width="14.08" height="15.43" fill="#d6ffc7"/>
<rect x="611.40" y="274.55" width="14.08" height="15.43" fill="#afff98"/>
<rect x="32.00" y="289.93" width="14.09" height="15.43" fill="#ff260d"/>
<rect x="46.04" y="289.93" width="14.09" height="15.43" fill="#ad74ff"/>
<rect x="60.08" y="289.93" width="14.09" height="15.43" fill="#fcd9ce"/>
<rect x="74.12" y="289.93" width="14.09" height="15.43" fill="#d5b4fc"/>
<rect x="88.16" y="289.93" width="14.09" height="15.43" fill="#9f63ff"/>
<rect x="102.20" y="289.93" width="14.09" height="15.43" fill="#a469ff"/>
<rect x="116.24" y="289.93" width="14.09" height="15.43" fill="#7239ff"/>
<rect x="130.28" y="289.93" width="14.09" height="15.43" fill="#9559ff"/>
<rect x="144.32" y="289.93" width="14.09" height="15.43" fill="#260dff"/>
<rect x="158.36" y="289.93" width="14.09" height="15.43" fill="#e1ccf8"/>
<rect x="172.40" y="289.93" width="14.09" height="15.43" fill="#b886ff"/>
<rect x="186.44" y="289.93" width="14.09" height="15.43" fill="#d7bafc"/>
<rect x="200.48" y="289.93" width="14.09" height="15.43" fill="#0000ff"/>
<rect x="214.52" y="289.93" width="14.09" height="15.43" fill="#3717ff"/>
<rect x="228.56" y="289.93" width="14.09" height="15.43" fill="#ffad90"/>
<rect x="242.60" y="289.93" width="14.09" height="15.43" fill="#ffc1ac"/>
<rect x="256.64" y="289.93" width="14.09" height="15.43" fill="#ff0d03"/>
<rect x="270.68" y="289.93" width="14.09" height="15.43" fill="#ff3013"/>
<rect x="284.72" y="289.93" width="14.09" height="15.43" fill="#ff3013"/>
<rect x="298.76" y="289.93" width="14.09" height="15.43" fill="#ff260d"/>
<rect x="312.80" y="289.93" width="14.09" height="15.43" fill="#ff572e"/>
<rect x="330.80" y="289.93" width="14.08" height="15.43" fill="#ff0000"/>
<rect x="344.83" y="289.93" width="14.08" height="15.43" fill="#ff0000"/>
<rect x="358.86" y="289.93" width="14.08" height="15.43" fill="#ffeae1"/>
<rect x="372.89" y="289.93" width="14.08" height="15.43" fill="#b4ff9e"/>
<rect x="386.92" y="289.93" width="14.08" height="15.43" fill="#ff916a"/>
<rect x="400.95" y="289.93" width="14.08" height="15.43" fill="#ff916a"/>
<rect x="414.98" y="289.93" width="14.08" height="15.43" fill="#fff4f0"/>
<rect x="429.01" y="289.93" width="14.08" height="15.43" fill="#f6fff2"/>
<rect x="443.04" y="289.93" width="14.08" height="15.43" fill="#ffeae1"/>
<rect x="457.07" y="289.93" width="14.08" height="15.43" fill="#fff0e8"/>
<rect x="471.10" y="289.93" width="14.08" height="15.43" fill="#fff6f3"/>
<rect x="485.13" y="289.93" width="14.08" height="15.43" fill="#edffe5"/>
<rect x="499.16" y="289.93" width="14.08" height="15.43" fill="#fff0e8"/>
<rect x="513.19" y="289.93" width="14.08" height="15.43" fill="#c3ffaf"/>
<rect x="527.22" y="289.93" width="14.08" height="15.43" fill="#ffffff"/>
<rect x="541.25" y="289.93" width="14.08" height="15.43" fill="#50ff3c"/>
<rect x="555.28" y="289.93" width="14.08" height="15.43" fill="#ff4e26"/>
<rect x="569.31" y="289.93" width="14.08" height="15.43" fill="#ffd0bd"/>
<rect x="583.34" y="289.93" width="14.08" height="15.43" fill="#78ff5f"/>
<rect x="597.37" y="289.93" width="14.08" height="15.43" fill="#ffd6c3"/>
<rect x="611.40" y="289.93" width="14.08" height="15.43" fill="#ffb699"/>
<rect x="32.00" y="305.30" width="14.09" height="15.43" fill="#ff8158"/>
<rect x="46.04" y="305.30" width="14.09" height="15.43" fill="#cea9fe"/>
<rect x="60.08" y="305.30" width="14.09" height="15.43" fill="#8b4eff"/>
<rect x="74.12" y="305.30" width="14.09" height="15.43" fill="#caa2ff"/>
<rect x="88.16" y="305.30" width="14.09" height="15.43" fill="#5124ff"/>
<rect x="102.20" y="305.30" width="14.09" height="15.43" fill="#f1f1f1"/>
<rect x="116.24" y="305.30" width="14.09" height="15.43" fill="#ffa98a"/>
<rect x="130.28" y="305.30" width="14.09" height="15.43" fill="#ff774d"/>
<rect x="144.32" y="305.30" width="14.09" height="15.43" fill="#ff774d"/>
<rect x="158.36" y="305.30" width="14.09" height="15.43" fill="#ff865f"/>
<rect x="172.40" y="305.30" width="14.09" height="15.43" fill="#451dff"/>
<rect x="186.44" y="305.30" width="14.09" height="15.43" fill="#f1f1f1"/>
<rect x="200.48" y="305.30" width="14.09" height="15.43" fill="#9559ff"/>
<rect x="214.52" y="305.30" width="14.09" height="15.43" fill="#c89cff"/>
<rect x="228.56" y="305.30" width="14.09" height="15.43" fill="#ff6238"/>
<rect x="242.60" y="305.30" width="14.09" height="15.43" fill="#ffcfc0"/>
<rect x="256.64" y="305.30" width="14.09" height="15.43" fill="#e3d3f7"/>
<rect x="270.68" y="305.30" width="14.09" height="15.43" fill="#e3d3f7"/>
<rect x="284.72" y="305.30" width="14.09" height="15.43" fill="#fed4c7"/>
<rect x="298.76" y="305.30" width="14.09" height="15.43" fill="#faded5"/>
<rect x="312.80" y="305.30" width="14.09" height="15.43" fill="#e3d3f7"/>
<rect x="330.80" y="305.30" width="14.08" height="15.43" fill="#ff653b"/>
<rect x="344.83" y="305.30" width="14.08" height="15.43" fill="#ff9c77"/>
<rect x="358.86" y="305.30" width="14.08" height="15.43" fill="#ffd0bd"/>
<rect x="372.89" y="305.30" width="14.08" height="15.43" fill="#ff865d"/>
<rect x="386.92" y="305.30" width="14.08" height="15.43" fill="#b4ff9e"/>
<rect x="400.95" y="305.30" width="14.08" height="15.43" fill="#ffc1a7"/>
<rect x="414.98" y="305.30" width="14.08" height="15.43" fill="#ffeae1"/>
<rect x="429.01" y="305.30" width="14.08" height="15.43" fill="#fff6f3"/>
<rect x="443.04" y="305.30" width="14.08" height="15.43" fill="#fff0e8"/>
<rect x="457.07" y="305.30" width="14.08" height="15.43" fill="#fff3ed"/>
<rect x="471.10" y="305.30" width="14.08" height="15.43" fill="#ffdfd2"/>
<rect x="485.13" y="305.30" width="14.08" height="15.43" fill="#e8ffdf"/>
<rect x="499.16" y="305.30" width="14.08" height="15.43" fill="#ffffff"/>
<rect x="513.19" y="305.30" width="14.08" height="15.43" fill="#ffffff"/>
<rect x="527.22" y="305.30" width="14.08" height="15.43" fill="#ffffff"/>
<rect x="541.25" y="305.30" width="14.08" height="15.43" fill="#6cff54"/>
<rect x="555.28" y="305.30" width="14.08" height="15.43" fill="#ff9c77"/>
<rect x="569.31" y="305.30" width="14.08" height="15.43" fill="#b4ff9e"/>
<rect x="583.34" y="305.30" width="14.08" height="15.43" fill="#fbfff9"/>
<rect x="597.37" y="305.30" width="14.08" height="15.43" fill="#65ff4e"/>
<rect x="611.40" y="305.30" width="14.08" height="15.43" fill="#ff0000"/>
<rect x="32.00" y="320.68" width="14.09" height="15.43" fill="#ff572e"/>
<rect x="46.04" y="320.68" width="14.09" height="15.43" fill="#ff1906"/>
<rect x="60.08" y="320.68" width="14.09" height="15.43" fill="#f1f1f1"/>
<rect x="74.12" y="320.68" width="14.09" height="15.43" fill="#c497ff"/>
<rect x="88.16" y="320.68" width="14.09" height="15.43" fill="#9f63ff"/>
<rect x="102.20" y="320.68" width="14.09" height="15.43" fill="#fcd9ce"/>
<rect x="116.24" y="320.68" width="14.09" height="15.43" fill="#0000ff"/>
<rect x="130.28" y="320.68" width="14.09" height="15.43" fill="#ff673c"/>
<rect x="144.32" y="320.68" width="14.09" height="15.43" fill="#ff9a76"/>
<rect x="158.36" y="320.68" width="14.09" height="15.43" fill="#ad74ff"/>
<rect x="172.40" y="320.68" width="14.09" height="15.43" fill="#e1ccf8"/>
<rect x="186.44" y="320.68" width="14.09" height="15.43" fill="#0000ff"/>
<rect x="200.48" y="320.68" width="14.09" height="15.43" fill="#622fff"/>
<rect x="214.52" y="320.68" width="14.09" height="15.43" fill="#d7bafc"/>
<rect x="228.56" y="320.68" width="14.09" height="15.43" fill="#e1ccf8"/>
<rect x="242.60" y="320.68" width="14.09" height="15.43" fill="#f4edea"/>
<rect x="256.64" y="320.68" width="14.09" height="15.43" fill="#ff906a"/>
<rect x="270.68" y="320.68" width="14.09" height="15.43" fill="#ffa98a"/>
<rect x="284.72" y="320.68" width="14.09" height="15.43" fill="#fed4c7"/>
<rect x="298.76" y="320.68" width="14.09" height="15.43" fill="#ffbca5"/>
<rect x="312.80" y="320.68" width="14.09" height="15.43" fill="#ffcbb9"/>
<rect x="330.80" y="320.68" width="14.08" height="15.43" fill="#37ff27"/>
<rect x="344.83" y="320.68" width="14.08" height="15.43" fill="#fff0e8"/>
<rect x="358.86" y="320.68" width="14.08" height="15.43" fill="#afff98"/>
<rect x="372.89" y="320.68" width="14.08" height="15.43" fill="#ffffff"/>
<rect x="386.92" y="320.68" width="14.08" height="15.43" fill="#9fff87"/>
<rect x="400.95" y="320.68" width="14.08" height="15.43" fill="#ff3a19"/>
<rect x="414.98" y="320.68" width="14.08" height="15.43" fill="#ff0000"/>
<rect x="429.01" y="320.68" width="14.08" height="15.43" fill="#ff0000"/>
<rect x="443.04" y="320.68" width="14.08" height="15.43" fill="#ff0000"/>
<rect x="457.07" y="320.68" width="14.08" height="15.43" fill="#ff0000"/>
<rect x="471.10" y="320.68" width="14.08" height="15.43" fill="#ff0000"/>
<rect x="485.13" y="320.68" width="14.08" height="15.43" fill="#ff0000"/>
<rect x="499.16" y="320.68" width="14.08" height="15.43" fill="#ff0000"/>
<rect x="513.19" y="320.68" width="14.08" height="15.43" fill="#ffe5d9"/>
<rect x="527.22" y="320.68" width="14.08" height="15.43" fill="#b4ff9e"/>
<rect x="541.25" y="320.68" width="14.08" height="15.43" fill="#ff6b40"/>
<rect x="555.28" y="320.68" width="14.08" height="15.43" fill="#ff1a07"/>
<rect x="569.31" y="320.68" width="14.08" height="15.43" fill="#ff411d"/>
<rect x="583.34" y="320.68" width="14.08" height="15.43" fill="#b4ff9e"/>
<rect x="597.37" y="320.68" width="14.08" height="15.43" fill="#12ff0b"/>
<rect x="611.40" y="320.68" width="14.08" height="15.43" fill="#ffe5d9"/>
</svg>
<svg width="685" height="377" viewBox="0 0 685 377" style="position:absolute;left:0;top:0">
<defs>
<linearGradient id="gi" x1="0" y1="0" x2="0" y2="1">
<stop offset="0" stop-color="#ff0000"/><stop offset="0.257" stop-color="#ff0000"/>
<stop offset="0.303" stop-color="#ff3c14"/>
<stop offset="0.347" stop-color="#ff643c"/>
<stop offset="0.392" stop-color="#ffa082"/>
<stop offset="0.452" stop-color="#ffdcd2"/>
<stop offset="0.49" stop-color="#ffffff"/>
<stop offset="0.525" stop-color="#d7c8ff"/>
<stop offset="0.57" stop-color="#aa8cff"/>
<stop offset="0.63" stop-color="#6e3cff"/>
<stop offset="0.689" stop-color="#2800ff"/>
<stop offset="0.724" stop-color="#0000ff"/><stop offset="1" stop-color="#0000ff"/>
</linearGradient>
<linearGradient id="gd" x1="0" y1="0" x2="0" y2="1">
<stop offset="0" stop-color="#ff0000"/><stop offset="0.151" stop-color="#ff0000"/>
<stop offset="0.241" stop-color="#ff3c1e"/>
<stop offset="0.331" stop-color="#ff8264"/>
<stop offset="0.423" stop-color="#ffc8b4"/>
<stop offset="0.497" stop-color="#ffffff"/>
<stop offset="0.58" stop-color="#dcffd2"/>
<stop offset="0.69" stop-color="#96fa78"/>
<stop offset="0.81" stop-color="#3cfa1e"/>
<stop offset="0.906" stop-color="#00ff00"/><stop offset="1" stop-color="#00ff00"/>
</linearGradient>
</defs>
<g stroke="#333" stroke-width="1" fill="none" stroke-linejoin="miter" stroke-linecap="butt">
<path d="M39.5 24.0V10.5H53.5V24.0"/>
<path d="M46.5 10.5V5.5H67.5V24.0"/>
<path d="M81.5 24.0V15.5H95.5V24.0"/>
<path d="M109.5 24.0V10.5H123.5V24.0"/>
<path d="M88.5 15.5V7.5H116.5V10.5"/>
<path d="M56.5 5.5V3.5H102.5V7.5"/>
<path d="M151.5 24.0V9.5H165.5V24.0"/>
<path d="M137.5 24.0V7.5H158.5V9.5"/>
<path d="M207.5 24.0V12.5H221.5V24.0"/>
<path d="M193.5 24.0V9.5H214.5V12.5"/>
<path d="M179.5 24.0V6.5H203.5V9.5"/>
<path d="M147.5 7.5V4.5H191.5V6.5"/>
<path d="M79.5 3.5V2.5H169.5V4.5"/>
<path d="M235.5 24.0V13.5H249.5V24.0"/>
<path d="M291.5 24.0V19.5H305.5V24.0"/>
<path d="M277.5 24.0V18.5H298.5V19.5"/>
<path d="M288.5 18.5V17.5H319.5V24.0"/>
<path d="M263.5 24.0V16.5H304.5V17.5"/>
<path d="M242.5 13.5V9.5H283.5V16.5"/>
<path d="M124.5 2.5V1.5H263.5V9.5"/>
<path d="M337.5 24.0V13.5H351.5V24.0"/>
<path d="M344.5 13.5V11.5H365.5V24.0"/>
<path d="M379.5 24.0V8.5H393.5V24.0"/>
<path d="M355.5 11.5V7.5H386.5V8.5"/>
<path d="M436.5 24.0V17.5H450.5V24.0"/>
<path d="M443.5 17.5V16.5H464.5V24.0"/>
<path d="M453.5 16.5V15.5H478.5V24.0"/>
<path d="M421.5 24.0V13.5H465.5V15.5"/>
<path d="M407.5 24.0V9.5H443.5V13.5"/>
<path d="M492.5 24.0V12.5H506.5V24.0"/>
<path d="M425.5 9.5V7.5H499.5V12.5"/>
<path d="M462.5 7.5V5.5H520.5V24.0"/>
<path d="M371.5 7.5V3.5H491.5V5.5"/>
<path d="M562.5 24.0V12.5H576.5V24.0"/>
<path d="M548.5 24.0V8.5H569.5V12.5"/>
<path d="M534.5 24.0V5.5H558.5V8.5"/>
<path d="M590.5 24.0V12.5H604.5V24.0"/>
<path d="M597.5 12.5V7.5H618.5V24.0"/>
<path d="M546.5 5.5V3.5H607.5V7.5"/>
<path d="M431.5 3.5V1.5H577.5V3.5"/>
<path d="M32.0 47.5H25.5V62.5H32.0"/>
<path d="M32.0 77.5H26.5V93.5H32.0"/>
<path d="M25.5 54.5H23.5V85.5H26.5"/>
<path d="M32.0 123.5H25.5V139.5H32.0"/>
<path d="M32.0 108.5H25.5V131.5H25.5"/>
<path d="M23.5 70.5H22.5V120.5H25.5"/>
<path d="M32.0 31.5H20.5V95.5H22.5"/>
<path d="M32.0 156.5H24.5V172.5H32.0"/>
<path d="M32.0 203.5H26.5V218.5H32.0"/>
<path d="M26.5 210.5H23.5V233.5H32.0"/>
<path d="M32.0 187.5H22.5V222.5H23.5"/>
<path d="M24.5 164.5H20.5V204.5H22.5"/>
<path d="M32.0 266.5H25.5V282.5H32.0"/>
<path d="M32.0 251.5H23.5V274.5H25.5"/>
<path d="M23.5 263.5H22.5V297.5H32.0"/>
<path d="M32.0 312.5H22.5V328.5H32.0"/>
<path d="M22.5 280.5H21.5V320.5H22.5"/>
<path d="M20.5 184.5H14.6V300.5H21.5"/>
<path d="M20.5 63.5H12.4V242.5H14.5"/>
</g>
<line x1="19.1" y1="51" x2="19.1" y2="310" stroke="#666" stroke-width="0.8" stroke-dasharray="1,1.5"/>
<text x="0" y="0" transform="translate(7.4,85.5) scale(1,1.3) rotate(-90)" font-family='"Liberation Sans", sans-serif' font-size="9" text-anchor="middle" fill="#000">1</text>
<text x="0" y="0" transform="translate(7.4,195.3) scale(1,1.3) rotate(-90)" font-family='"Liberation Sans", sans-serif' font-size="9" text-anchor="middle" fill="#000">3</text>
<text x="0" y="0" transform="translate(7.4,289.9) scale(1,1.3) rotate(-90)" font-family='"Liberation Sans", sans-serif' font-size="9" text-anchor="middle" fill="#000">2</text>
<text x="0" y="0" transform="translate(627.6,36.99) scale(1,1.3)" font-family='"Liberation Sans", sans-serif' font-size="8" fill="#000" stroke="#000" stroke-width="0.12">Prodip</text>
<text x="0" y="0" transform="translate(627.6,52.36) scale(1,1.3)" font-family='"Liberation Sans", sans-serif' font-size="8" fill="#000" stroke="#000" stroke-width="0.12">E23</text>
<text x="0" y="0" transform="translate(627.6,67.74) scale(1,1.3)" font-family='"Liberation Sans", sans-serif' font-size="8" fill="#000" stroke="#000" stroke-width="0.12">E 30</text>
<text x="0" y="0" transform="translate(627.6,83.11) scale(1,1.3)" font-family='"Liberation Sans", sans-serif' font-size="8" fill="#000" stroke="#000" stroke-width="0.12">E21</text>
<text x="0" y="0" transform="translate(627.6,98.49) scale(1,1.3)" font-family='"Liberation Sans", sans-serif' font-size="8" fill="#000" stroke="#000" stroke-width="0.12">E 24</text>
<text x="0" y="0" transform="translate(627.6,113.86) scale(1,1.3)" font-family='"Liberation Sans", sans-serif' font-size="8" fill="#000" stroke="#000" stroke-width="0.12">E7</text>
<text x="0" y="0" transform="translate(627.6,129.24) scale(1,1.3)" font-family='"Liberation Sans", sans-serif' font-size="8" fill="#000" stroke="#000" stroke-width="0.12">E 29</text>
<text x="0" y="0" transform="translate(627.6,144.61) scale(1,1.3)" font-family='"Liberation Sans", sans-serif' font-size="8" fill="#000" stroke="#000" stroke-width="0.12">E9</text>
<text x="0" y="0" transform="translate(627.6,162.19) scale(1,1.3)" font-family='"Liberation Sans", sans-serif' font-size="8" fill="#000" stroke="#000" stroke-width="0.12">E 40</text>
<text x="0" y="0" transform="translate(627.6,177.56) scale(1,1.3)" font-family='"Liberation Sans", sans-serif' font-size="8" fill="#000" stroke="#000" stroke-width="0.12">E 33</text>
<text x="0" y="0" transform="translate(627.6,192.94) scale(1,1.3)" font-family='"Liberation Sans", sans-serif' font-size="8" fill="#000" stroke="#000" stroke-width="0.12">E8</text>
<text x="0" y="0" transform="translate(627.6,208.31) scale(1,1.3)" font-family='"Liberation Sans", sans-serif' font-size="8" fill="#000" stroke="#000" stroke-width="0.12">E 35</text>
<text x="0" y="0" transform="translate(627.6,223.69) scale(1,1.3)" font-family='"Liberation Sans", sans-serif' font-size="8" fill="#000" stroke="#000" stroke-width="0.12">E 34</text>
<text x="0" y="0" transform="translate(627.6,239.06) scale(1,1.3)" font-family='"Liberation Sans", sans-serif' font-size="8" fill="#000" stroke="#000" stroke-width="0.12">E 41</text>
<text x="0" y="0" transform="translate(627.6,256.79) scale(1,1.3)" font-family='"Liberation Sans", sans-serif' font-size="8" fill="#000" stroke="#000" stroke-width="0.12">E 42</text>
<text x="0" y="0" transform="translate(627.6,272.16) scale(1,1.3)" font-family='"Liberation Sans", sans-serif' font-size="8" fill="#000" stroke="#000" stroke-width="0.12">E 31</text>
<text x="0" y="0" transform="translate(627.6,287.54) scale(1,1.3)" font-family='"Liberation Sans", sans-serif' font-size="8" fill="#000" stroke="#000" stroke-width="0.12">E 28</text>
<text x="0" y="0" transform="translate(627.6,302.91) scale(1,1.3)" font-family='"Liberation Sans", sans-serif' font-size="8" fill="#000" stroke="#000" stroke-width="0.12">E 38</text>
<text x="0" y="0" transform="translate(627.6,318.29) scale(1,1.3)" font-family='"Liberation Sans", sans-serif' font-size="8" fill="#000" stroke="#000" stroke-width="0.12">E 39</text>
<text x="0" y="0" transform="translate(627.6,333.66) scale(1,1.3)" font-family='"Liberation Sans", sans-serif' font-size="8" fill="#000" stroke="#000" stroke-width="0.12">E 43</text>
<text x="0" y="0" transform="translate(40.32,339) rotate(-90)" font-family='"Liberation Sans", sans-serif' font-size="7" stroke="#000" stroke-width="0.3" text-anchor="end" dominant-baseline="central" fill="#000">CT7DBA</text>
<text x="0" y="0" transform="translate(54.36,339) rotate(-90)" font-family='"Liberation Sans", sans-serif' font-size="7" stroke="#000" stroke-width="0.3" text-anchor="end" dominant-baseline="central" fill="#000">CTA</text>
<text x="0" y="0" transform="translate(68.40,339) rotate(-90)" font-family='"Liberation Sans", sans-serif' font-size="7" stroke="#000" stroke-width="0.3" text-anchor="end" dominant-baseline="central" fill="#000">X.1</text>
<text x="0" y="0" transform="translate(82.44,339) rotate(-90)" font-family='"Liberation Sans", sans-serif' font-size="7" stroke="#000" stroke-width="0.3" text-anchor="end" dominant-baseline="central" fill="#000">BY</text>
<text x="0" y="0" transform="translate(96.48,339) rotate(-90)" font-family='"Liberation Sans", sans-serif' font-size="7" stroke="#000" stroke-width="0.3" text-anchor="end" dominant-baseline="central" fill="#000">GY</text>
<text x="0" y="0" transform="translate(110.52,339) rotate(-90)" font-family='"Liberation Sans", sans-serif' font-size="7" stroke="#000" stroke-width="0.3" text-anchor="end" dominant-baseline="central" fill="#000">SV7DBA</text>
<text x="0" y="0" transform="translate(124.56,339) rotate(-90)" font-family='"Liberation Sans", sans-serif' font-size="7" stroke="#000" stroke-width="0.3" text-anchor="end" dominant-baseline="central" fill="#000">SV7DAA</text>
<text x="0" y="0" transform="translate(138.60,339) rotate(-90)" font-family='"Liberation Sans", sans-serif' font-size="7" stroke="#000" stroke-width="0.3" text-anchor="end" dominant-baseline="central" fill="#000">RWC</text>
<text x="0" y="0" transform="translate(152.64,339) rotate(-90)" font-family='"Liberation Sans", sans-serif' font-size="7" stroke="#000" stroke-width="0.3" text-anchor="end" dominant-baseline="central" fill="#000">GPS</text>
<text x="0" y="0" transform="translate(166.68,339) rotate(-90)" font-family='"Liberation Sans", sans-serif' font-size="7" stroke="#000" stroke-width="0.3" text-anchor="end" dominant-baseline="central" fill="#000">CT7DAA</text>
<text x="0" y="0" transform="translate(180.72,339) rotate(-90)" font-family='"Liberation Sans", sans-serif' font-size="7" stroke="#000" stroke-width="0.3" text-anchor="end" dominant-baseline="central" fill="#000">PAR80DAS</text>
<text x="0" y="0" transform="translate(194.76,339) rotate(-90)" font-family='"Liberation Sans", sans-serif' font-size="7" stroke="#000" stroke-width="0.3" text-anchor="end" dominant-baseline="central" fill="#000">TSW</text>
<text x="0" y="0" transform="translate(208.80,339) rotate(-90)" font-family='"Liberation Sans", sans-serif' font-size="7" stroke="#000" stroke-width="0.3" text-anchor="end" dominant-baseline="central" fill="#000">SVA</text>
<text x="0" y="0" transform="translate(222.84,339) rotate(-90)" font-family='"Liberation Sans", sans-serif' font-size="7" stroke="#000" stroke-width="0.3" text-anchor="end" dominant-baseline="central" fill="#000">SL</text>
<text x="0" y="0" transform="translate(236.88,339) rotate(-90)" font-family='"Liberation Sans", sans-serif' font-size="7" stroke="#000" stroke-width="0.3" text-anchor="end" dominant-baseline="central" fill="#000">PH</text>
<text x="0" y="0" transform="translate(250.92,339) rotate(-90)" font-family='"Liberation Sans", sans-serif' font-size="7" stroke="#000" stroke-width="0.3" text-anchor="end" dominant-baseline="central" fill="#000">LAI</text>
<text x="0" y="0" transform="translate(264.96,339) rotate(-90)" font-family='"Liberation Sans", sans-serif' font-size="7" stroke="#000" stroke-width="0.3" text-anchor="end" dominant-baseline="central" fill="#000">DFL</text>
<text x="0" y="0" transform="translate(279.00,339) rotate(-90)" font-family='"Liberation Sans", sans-serif' font-size="7" stroke="#000" stroke-width="0.3" text-anchor="end" dominant-baseline="central" fill="#000">DB</text>
<text x="0" y="0" transform="translate(293.04,339) rotate(-90)" font-family='"Liberation Sans", sans-serif' font-size="7" stroke="#000" stroke-width="0.3" text-anchor="end" dominant-baseline="central" fill="#000">DA</text>
<text x="0" y="0" transform="translate(307.08,339) rotate(-90)" font-family='"Liberation Sans", sans-serif' font-size="7" stroke="#000" stroke-width="0.3" text-anchor="end" dominant-baseline="central" fill="#000">DH</text>
<text x="0" y="0" transform="translate(321.12,339) rotate(-90)" font-family='"Liberation Sans", sans-serif' font-size="7" stroke="#000" stroke-width="0.3" text-anchor="end" dominant-baseline="central" fill="#000">DM</text>
<text x="0" y="0" transform="translate(339.12,339) rotate(-90)" font-family='"Liberation Sans", sans-serif' font-size="7" stroke="#000" stroke-width="0.3" text-anchor="end" dominant-baseline="central" fill="#000">PH</text>
<text x="0" y="0" transform="translate(353.15,339) rotate(-90)" font-family='"Liberation Sans", sans-serif' font-size="7" stroke="#000" stroke-width="0.3" text-anchor="end" dominant-baseline="central" fill="#000">LAI</text>
<text x="0" y="0" transform="translate(367.18,339) rotate(-90)" font-family='"Liberation Sans", sans-serif' font-size="7" stroke="#000" stroke-width="0.3" text-anchor="end" dominant-baseline="central" fill="#000">BY</text>
<text x="0" y="0" transform="translate(381.21,339) rotate(-90)" font-family='"Liberation Sans", sans-serif' font-size="7" stroke="#000" stroke-width="0.3" text-anchor="end" dominant-baseline="central" fill="#000">GY</text>
<text x="0" y="0" transform="translate(395.24,339) rotate(-90)" font-family='"Liberation Sans", sans-serif' font-size="7" stroke="#000" stroke-width="0.3" text-anchor="end" dominant-baseline="central" fill="#000">SV7DAA</text>
<text x="0" y="0" transform="translate(409.27,339) rotate(-90)" font-family='"Liberation Sans", sans-serif' font-size="7" stroke="#000" stroke-width="0.3" text-anchor="end" dominant-baseline="central" fill="#000">CT7DBA</text>
<text x="0" y="0" transform="translate(423.30,339) rotate(-90)" font-family='"Liberation Sans", sans-serif' font-size="7" stroke="#000" stroke-width="0.3" text-anchor="end" dominant-baseline="central" fill="#000">RWC</text>
<text x="0" y="0" transform="translate(437.32,339) rotate(-90)" font-family='"Liberation Sans", sans-serif' font-size="7" stroke="#000" stroke-width="0.3" text-anchor="end" dominant-baseline="central" fill="#000">DM</text>
<text x="0" y="0" transform="translate(451.36,339) rotate(-90)" font-family='"Liberation Sans", sans-serif' font-size="7" stroke="#000" stroke-width="0.3" text-anchor="end" dominant-baseline="central" fill="#000">DA</text>
<text x="0" y="0" transform="translate(465.39,339) rotate(-90)" font-family='"Liberation Sans", sans-serif' font-size="7" stroke="#000" stroke-width="0.3" text-anchor="end" dominant-baseline="central" fill="#000">DB</text>
<text x="0" y="0" transform="translate(479.42,339) rotate(-90)" font-family='"Liberation Sans", sans-serif' font-size="7" stroke="#000" stroke-width="0.3" text-anchor="end" dominant-baseline="central" fill="#000">DH</text>
<text x="0" y="0" transform="translate(493.44,339) rotate(-90)" font-family='"Liberation Sans", sans-serif' font-size="7" stroke="#000" stroke-width="0.3" text-anchor="end" dominant-baseline="central" fill="#000">DFL</text>
<text x="0" y="0" transform="translate(507.48,339) rotate(-90)" font-family='"Liberation Sans", sans-serif' font-size="7" stroke="#000" stroke-width="0.3" text-anchor="end" dominant-baseline="central" fill="#000">SVA</text>
<text x="0" y="0" transform="translate(521.50,339) rotate(-90)" font-family='"Liberation Sans", sans-serif' font-size="7" stroke="#000" stroke-width="0.3" text-anchor="end" dominant-baseline="central" fill="#000">X.1</text>
<text x="0" y="0" transform="translate(535.53,339) rotate(-90)" font-family='"Liberation Sans", sans-serif' font-size="7" stroke="#000" stroke-width="0.3" text-anchor="end" dominant-baseline="central" fill="#000">PAR80DAS</text>
<text x="0" y="0" transform="translate(549.56,339) rotate(-90)" font-family='"Liberation Sans", sans-serif' font-size="7" stroke="#000" stroke-width="0.3" text-anchor="end" dominant-baseline="central" fill="#000">TSW</text>
<text x="0" y="0" transform="translate(563.59,339) rotate(-90)" font-family='"Liberation Sans", sans-serif' font-size="7" stroke="#000" stroke-width="0.3" text-anchor="end" dominant-baseline="central" fill="#000">CTA</text>
<text x="0" y="0" transform="translate(577.62,339) rotate(-90)" font-family='"Liberation Sans", sans-serif' font-size="7" stroke="#000" stroke-width="0.3" text-anchor="end" dominant-baseline="central" fill="#000">CT7DAA</text>
<text x="0" y="0" transform="translate(591.65,339) rotate(-90)" font-family='"Liberation Sans", sans-serif' font-size="7" stroke="#000" stroke-width="0.3" text-anchor="end" dominant-baseline="central" fill="#000">SL</text>
<text x="0" y="0" transform="translate(605.68,339) rotate(-90)" font-family='"Liberation Sans", sans-serif' font-size="7" stroke="#000" stroke-width="0.3" text-anchor="end" dominant-baseline="central" fill="#000">SV7DBA</text>
<text x="0" y="0" transform="translate(619.71,339) rotate(-90)" font-family='"Liberation Sans", sans-serif' font-size="7" stroke="#000" stroke-width="0.3" text-anchor="end" dominant-baseline="central" fill="#000">GPS</text>
<text x="0" y="0" transform="translate(656.8,125.6) scale(1,1.22)" font-family='"Liberation Sans", sans-serif' font-size="6.7" font-weight="bold" fill="#000">Irrigated</text>
<rect x="656.8" y="128.6" width="8.3" height="48.2" fill="url(#gi)"/>
<line x1="656.8" x2="658.3" y1="131.6" y2="131.6" stroke="#fff" stroke-width="0.5"/>
<line x1="663.6" x2="665.1" y1="131.6" y2="131.6" stroke="#fff" stroke-width="0.5"/>
<text x="0" y="0" transform="translate(666,131.6) scale(1,1.22)" font-family='"Liberation Sans", sans-serif' font-size="6.6" dominant-baseline="central" fill="#000" stroke="#000" stroke-width="0.1">4</text>
<line x1="656.8" x2="658.3" y1="142.6" y2="142.6" stroke="#fff" stroke-width="0.5"/>
<line x1="663.6" x2="665.1" y1="142.6" y2="142.6" stroke="#fff" stroke-width="0.5"/>
<text x="0" y="0" transform="translate(666,142.6) scale(1,1.22)" font-family='"Liberation Sans", sans-serif' font-size="6.6" dominant-baseline="central" fill="#000" stroke="#000" stroke-width="0.1">2</text>
<line x1="656.8" x2="658.3" y1="153.6" y2="153.6" stroke="#fff" stroke-width="0.5"/>
<line x1="663.6" x2="665.1" y1="153.6" y2="153.6" stroke="#fff" stroke-width="0.5"/>
<text x="0" y="0" transform="translate(666,153.6) scale(1,1.22)" font-family='"Liberation Sans", sans-serif' font-size="6.6" dominant-baseline="central" fill="#000" stroke="#000" stroke-width="0.1">0</text>
<line x1="656.8" x2="658.3" y1="164.6" y2="164.6" stroke="#fff" stroke-width="0.5"/>
<line x1="663.6" x2="665.1" y1="164.6" y2="164.6" stroke="#fff" stroke-width="0.5"/>
<text x="0" y="0" transform="translate(666,164.6) scale(1,1.22)" font-family='"Liberation Sans", sans-serif' font-size="6.6" dominant-baseline="central" fill="#000" stroke="#000" stroke-width="0.1">-2</text>
<line x1="656.8" x2="658.3" y1="175.6" y2="175.6" stroke="#fff" stroke-width="0.5"/>
<line x1="663.6" x2="665.1" y1="175.6" y2="175.6" stroke="#fff" stroke-width="0.5"/>
<text x="0" y="0" transform="translate(666,175.6) scale(1,1.22)" font-family='"Liberation Sans", sans-serif' font-size="6.6" dominant-baseline="central" fill="#000" stroke="#000" stroke-width="0.1">-4</text>
<text x="0" y="0" transform="translate(656.8,191.7) scale(1,1.22)" font-family='"Liberation Sans", sans-serif' font-size="6.7" font-weight="bold" fill="#000">Drought</text>
<rect x="656.8" y="194.8" width="8.3" height="47.7" fill="url(#gd)"/>
<line x1="656.8" x2="658.3" y1="197.0" y2="197.0" stroke="#fff" stroke-width="0.5"/>
<line x1="663.6" x2="665.1" y1="197.0" y2="197.0" stroke="#fff" stroke-width="0.5"/>
<text x="0" y="0" transform="translate(666,197.0) scale(1,1.22)" font-family='"Liberation Sans", sans-serif' font-size="6.6" dominant-baseline="central" fill="#000" stroke="#000" stroke-width="0.1">2</text>
<line x1="656.8" x2="658.3" y1="208.0" y2="208.0" stroke="#fff" stroke-width="0.5"/>
<line x1="663.6" x2="665.1" y1="208.0" y2="208.0" stroke="#fff" stroke-width="0.5"/>
<text x="0" y="0" transform="translate(666,208.0) scale(1,1.22)" font-family='"Liberation Sans", sans-serif' font-size="6.6" dominant-baseline="central" fill="#000" stroke="#000" stroke-width="0.1">1</text>
<line x1="656.8" x2="658.3" y1="219.0" y2="219.0" stroke="#fff" stroke-width="0.5"/>
<line x1="663.6" x2="665.1" y1="219.0" y2="219.0" stroke="#fff" stroke-width="0.5"/>
<text x="0" y="0" transform="translate(666,219.0) scale(1,1.22)" font-family='"Liberation Sans", sans-serif' font-size="6.6" dominant-baseline="central" fill="#000" stroke="#000" stroke-width="0.1">0</text>
<line x1="656.8" x2="658.3" y1="230.0" y2="230.0" stroke="#fff" stroke-width="0.5"/>
<line x1="663.6" x2="665.1" y1="230.0" y2="230.0" stroke="#fff" stroke-width="0.5"/>
<text x="0" y="0" transform="translate(666,230.0) scale(1,1.22)" font-family='"Liberation Sans", sans-serif' font-size="6.6" dominant-baseline="central" fill="#000" stroke="#000" stroke-width="0.1">-1</text>
<line x1="656.8" x2="658.3" y1="241.0" y2="241.0" stroke="#fff" stroke-width="0.5"/>
<line x1="663.6" x2="665.1" y1="241.0" y2="241.0" stroke="#fff" stroke-width="0.5"/>
<text x="0" y="0" transform="translate(666,241.0) scale(1,1.22)" font-family='"Liberation Sans", sans-serif' font-size="6.6" dominant-baseline="central" fill="#000" stroke="#000" stroke-width="0.1">-2</text>
</svg>
</body></html>
